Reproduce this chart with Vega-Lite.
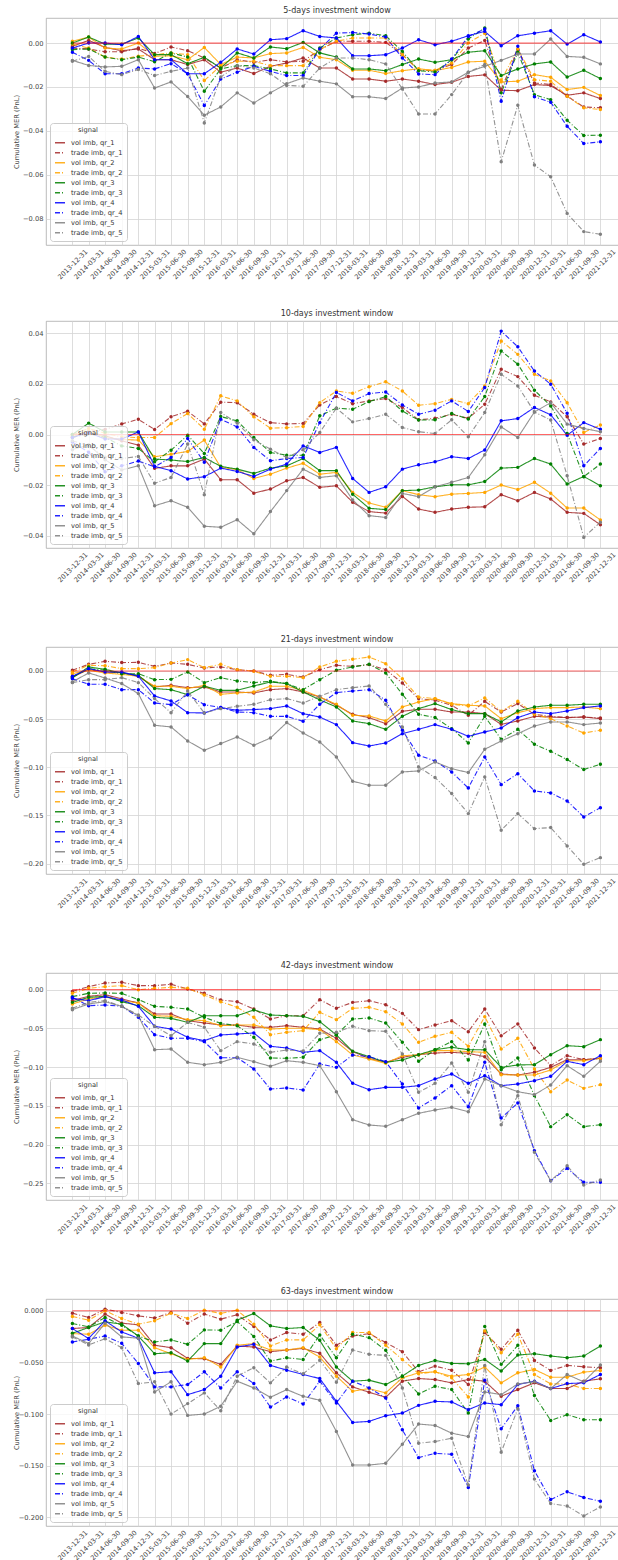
{
"$schema":"https://vega.github.io/schema/vega-lite/v6.json",
"padding":{"left":12,"top":6,"right":0,"bottom":0},
"datasets":{
"zero":[{"start":"2013-12-31","end":"2021-12-31"}],
"w5":[
{"date":"2013-12-31","sig":"v1","pnl":-0.0015},{"date":"2014-03-31","sig":"v1","pnl":0.0012},{"date":"2014-06-30","sig":"v1","pnl":-0.002},{"date":"2014-09-30","sig":"v1","pnl":-0.0035},{"date":"2014-12-31","sig":"v1","pnl":-0.0027},{"date":"2015-03-31","sig":"v1","pnl":-0.0076},{"date":"2015-06-30","sig":"v1","pnl":-0.0076},{"date":"2015-09-30","sig":"v1","pnl":-0.0098},{"date":"2015-12-31","sig":"v1","pnl":-0.0076},{"date":"2016-03-31","sig":"v1","pnl":-0.0133},{"date":"2016-06-30","sig":"v1","pnl":-0.0114},{"date":"2016-09-30","sig":"v1","pnl":-0.0139},{"date":"2016-12-31","sig":"v1","pnl":-0.0106},{"date":"2017-03-31","sig":"v1","pnl":-0.0091},{"date":"2017-06-30","sig":"v1","pnl":-0.0068},{"date":"2017-09-30","sig":"v1","pnl":-0.0114},{"date":"2017-12-31","sig":"v1","pnl":-0.0114},{"date":"2018-03-31","sig":"v1","pnl":-0.0164},{"date":"2018-06-30","sig":"v1","pnl":-0.0164},{"date":"2018-09-30","sig":"v1","pnl":-0.0174},{"date":"2018-12-31","sig":"v1","pnl":-0.0164},{"date":"2019-03-31","sig":"v1","pnl":-0.0174},{"date":"2019-06-30","sig":"v1","pnl":-0.0189},{"date":"2019-09-30","sig":"v1","pnl":-0.0179},{"date":"2019-12-31","sig":"v1","pnl":-0.0152},{"date":"2020-03-31","sig":"v1","pnl":-0.0145},{"date":"2020-06-30","sig":"v1","pnl":-0.0215},{"date":"2020-09-30","sig":"v1","pnl":-0.0217},{"date":"2020-12-31","sig":"v1","pnl":-0.0189},{"date":"2021-03-31","sig":"v1","pnl":-0.0194},{"date":"2021-06-30","sig":"v1","pnl":-0.0238},{"date":"2021-09-30","sig":"v1","pnl":-0.0227},{"date":"2021-12-31","sig":"v1","pnl":-0.0253},
{"date":"2013-12-31","sig":"t1","pnl":-0.0023},{"date":"2014-03-31","sig":"t1","pnl":-0.0027},{"date":"2014-06-30","sig":"t1","pnl":-0.004},{"date":"2014-09-30","sig":"t1","pnl":-0.004},{"date":"2014-12-31","sig":"t1","pnl":-0.0023},{"date":"2015-03-31","sig":"t1","pnl":-0.0048},{"date":"2015-06-30","sig":"t1","pnl":-0.0018},{"date":"2015-09-30","sig":"t1","pnl":-0.0035},{"date":"2015-12-31","sig":"t1","pnl":-0.0068},{"date":"2016-03-31","sig":"t1","pnl":-0.0114},{"date":"2016-06-30","sig":"t1","pnl":-0.0076},{"date":"2016-09-30","sig":"t1","pnl":-0.0088},{"date":"2016-12-31","sig":"t1","pnl":-0.0076},{"date":"2017-03-31","sig":"t1","pnl":-0.0086},{"date":"2017-06-30","sig":"t1","pnl":-0.0083},{"date":"2017-09-30","sig":"t1","pnl":-0.003},{"date":"2017-12-31","sig":"t1","pnl":0.0008},{"date":"2018-03-31","sig":"t1","pnl":0.0008},{"date":"2018-06-30","sig":"t1","pnl":0.0008},{"date":"2018-09-30","sig":"t1","pnl":0.0003},{"date":"2018-12-31","sig":"t1","pnl":-0.0053},{"date":"2019-03-31","sig":"t1","pnl":-0.0124},{"date":"2019-06-30","sig":"t1","pnl":-0.0126},{"date":"2019-09-30","sig":"t1","pnl":-0.0098},{"date":"2019-12-31","sig":"t1","pnl":-0.0023},{"date":"2020-03-31","sig":"t1","pnl":0.0012},{"date":"2020-06-30","sig":"t1","pnl":-0.0212},{"date":"2020-09-30","sig":"t1","pnl":-0.003},{"date":"2020-12-31","sig":"t1","pnl":-0.0182},{"date":"2021-03-31","sig":"t1","pnl":-0.0189},{"date":"2021-06-30","sig":"t1","pnl":-0.0242},{"date":"2021-09-30","sig":"t1","pnl":-0.0291},{"date":"2021-12-31","sig":"t1","pnl":-0.0295},
{"date":"2013-12-31","sig":"v2","pnl":0.0008},{"date":"2014-03-31","sig":"v2","pnl":0.0027},{"date":"2014-06-30","sig":"v2","pnl":-0.0023},{"date":"2014-09-30","sig":"v2","pnl":-0.0027},{"date":"2014-12-31","sig":"v2","pnl":0},{"date":"2015-03-31","sig":"v2","pnl":-0.006},{"date":"2015-06-30","sig":"v2","pnl":-0.0058},{"date":"2015-09-30","sig":"v2","pnl":-0.0076},{"date":"2015-12-31","sig":"v2","pnl":-0.002},{"date":"2016-03-31","sig":"v2","pnl":-0.0098},{"date":"2016-06-30","sig":"v2","pnl":-0.0064},{"date":"2016-09-30","sig":"v2","pnl":-0.0068},{"date":"2016-12-31","sig":"v2","pnl":-0.0048},{"date":"2017-03-31","sig":"v2","pnl":-0.0045},{"date":"2017-06-30","sig":"v2","pnl":-0.002},{"date":"2017-09-30","sig":"v2","pnl":-0.0065},{"date":"2017-12-31","sig":"v2","pnl":-0.0076},{"date":"2018-03-31","sig":"v2","pnl":-0.0124},{"date":"2018-06-30","sig":"v2","pnl":-0.0124},{"date":"2018-09-30","sig":"v2","pnl":-0.0139},{"date":"2018-12-31","sig":"v2","pnl":-0.0126},{"date":"2019-03-31","sig":"v2","pnl":-0.0117},{"date":"2019-06-30","sig":"v2","pnl":-0.0126},{"date":"2019-09-30","sig":"v2","pnl":-0.0111},{"date":"2019-12-31","sig":"v2","pnl":-0.0086},{"date":"2020-03-31","sig":"v2","pnl":-0.0083},{"date":"2020-06-30","sig":"v2","pnl":-0.0177},{"date":"2020-09-30","sig":"v2","pnl":-0.0174},{"date":"2020-12-31","sig":"v2","pnl":-0.0144},{"date":"2021-03-31","sig":"v2","pnl":-0.0156},{"date":"2021-06-30","sig":"v2","pnl":-0.0212},{"date":"2021-09-30","sig":"v2","pnl":-0.0202},{"date":"2021-12-31","sig":"v2","pnl":-0.0239},
{"date":"2013-12-31","sig":"t2","pnl":-0.0005},{"date":"2014-03-31","sig":"t2","pnl":-0.0023},{"date":"2014-06-30","sig":"t2","pnl":-0.0064},{"date":"2014-09-30","sig":"t2","pnl":-0.0073},{"date":"2014-12-31","sig":"t2","pnl":-0.006},{"date":"2015-03-31","sig":"t2","pnl":-0.0053},{"date":"2015-06-30","sig":"t2","pnl":-0.0045},{"date":"2015-09-30","sig":"t2","pnl":-0.0053},{"date":"2015-12-31","sig":"t2","pnl":-0.0171},{"date":"2016-03-31","sig":"t2","pnl":-0.0103},{"date":"2016-06-30","sig":"t2","pnl":-0.0083},{"date":"2016-09-30","sig":"t2","pnl":-0.0083},{"date":"2016-12-31","sig":"t2","pnl":-0.0103},{"date":"2017-03-31","sig":"t2","pnl":-0.0103},{"date":"2017-06-30","sig":"t2","pnl":-0.0103},{"date":"2017-09-30","sig":"t2","pnl":-0.003},{"date":"2017-12-31","sig":"t2","pnl":0.0008},{"date":"2018-03-31","sig":"t2","pnl":0.0023},{"date":"2018-06-30","sig":"t2","pnl":0.0023},{"date":"2018-09-30","sig":"t2","pnl":0.0023},{"date":"2018-12-31","sig":"t2","pnl":-0.0053},{"date":"2019-03-31","sig":"t2","pnl":-0.0121},{"date":"2019-06-30","sig":"t2","pnl":-0.0124},{"date":"2019-09-30","sig":"t2","pnl":-0.0091},{"date":"2019-12-31","sig":"t2","pnl":0},{"date":"2020-03-31","sig":"t2","pnl":0.0045},{"date":"2020-06-30","sig":"t2","pnl":-0.017},{"date":"2020-09-30","sig":"t2","pnl":-0.0027},{"date":"2020-12-31","sig":"t2","pnl":-0.0167},{"date":"2021-03-31","sig":"t2","pnl":-0.0174},{"date":"2021-06-30","sig":"t2","pnl":-0.0242},{"date":"2021-09-30","sig":"t2","pnl":-0.0295},{"date":"2021-12-31","sig":"t2","pnl":-0.0303},
{"date":"2013-12-31","sig":"v3","pnl":0},{"date":"2014-03-31","sig":"v3","pnl":0.0027},{"date":"2014-06-30","sig":"v3","pnl":-0.0005},{"date":"2014-09-30","sig":"v3","pnl":-0.0005},{"date":"2014-12-31","sig":"v3","pnl":0.0023},{"date":"2015-03-31","sig":"v3","pnl":-0.0053},{"date":"2015-06-30","sig":"v3","pnl":-0.0053},{"date":"2015-09-30","sig":"v3","pnl":-0.0094},{"date":"2015-12-31","sig":"v3","pnl":-0.0065},{"date":"2016-03-31","sig":"v3","pnl":-0.0114},{"date":"2016-06-30","sig":"v3","pnl":-0.0045},{"date":"2016-09-30","sig":"v3","pnl":-0.0068},{"date":"2016-12-31","sig":"v3","pnl":-0.0018},{"date":"2017-03-31","sig":"v3","pnl":-0.0026},{"date":"2017-06-30","sig":"v3","pnl":0.0003},{"date":"2017-09-30","sig":"v3","pnl":-0.0045},{"date":"2017-12-31","sig":"v3","pnl":-0.0064},{"date":"2018-03-31","sig":"v3","pnl":-0.0118},{"date":"2018-06-30","sig":"v3","pnl":-0.0118},{"date":"2018-09-30","sig":"v3","pnl":-0.0126},{"date":"2018-12-31","sig":"v3","pnl":-0.0098},{"date":"2019-03-31","sig":"v3","pnl":-0.0073},{"date":"2019-06-30","sig":"v3","pnl":-0.0088},{"date":"2019-09-30","sig":"v3","pnl":-0.0076},{"date":"2019-12-31","sig":"v3","pnl":-0.0042},{"date":"2020-03-31","sig":"v3","pnl":-0.0035},{"date":"2020-06-30","sig":"v3","pnl":-0.0148},{"date":"2020-09-30","sig":"v3","pnl":-0.0118},{"date":"2020-12-31","sig":"v3","pnl":-0.0095},{"date":"2021-03-31","sig":"v3","pnl":-0.0086},{"date":"2021-06-30","sig":"v3","pnl":-0.0155},{"date":"2021-09-30","sig":"v3","pnl":-0.0124},{"date":"2021-12-31","sig":"v3","pnl":-0.0162},
{"date":"2013-12-31","sig":"t3","pnl":-0.003},{"date":"2014-03-31","sig":"t3","pnl":-0.0027},{"date":"2014-06-30","sig":"t3","pnl":-0.0064},{"date":"2014-09-30","sig":"t3","pnl":-0.0076},{"date":"2014-12-31","sig":"t3","pnl":-0.0064},{"date":"2015-03-31","sig":"t3","pnl":-0.0085},{"date":"2015-06-30","sig":"t3","pnl":-0.0045},{"date":"2015-09-30","sig":"t3","pnl":-0.0064},{"date":"2015-12-31","sig":"t3","pnl":-0.022},{"date":"2016-03-31","sig":"t3","pnl":-0.0118},{"date":"2016-06-30","sig":"t3","pnl":-0.0103},{"date":"2016-09-30","sig":"t3","pnl":-0.0103},{"date":"2016-12-31","sig":"t3","pnl":-0.0118},{"date":"2017-03-31","sig":"t3","pnl":-0.0136},{"date":"2017-06-30","sig":"t3","pnl":-0.0136},{"date":"2017-09-30","sig":"t3","pnl":-0.0023},{"date":"2017-12-31","sig":"t3","pnl":0.0023},{"date":"2018-03-31","sig":"t3","pnl":0.0038},{"date":"2018-06-30","sig":"t3","pnl":0.0045},{"date":"2018-09-30","sig":"t3","pnl":0.0033},{"date":"2018-12-31","sig":"t3","pnl":-0.0038},{"date":"2019-03-31","sig":"t3","pnl":-0.0126},{"date":"2019-06-30","sig":"t3","pnl":-0.0132},{"date":"2019-09-30","sig":"t3","pnl":-0.0076},{"date":"2019-12-31","sig":"t3","pnl":0.0018},{"date":"2020-03-31","sig":"t3","pnl":0.0068},{"date":"2020-06-30","sig":"t3","pnl":-0.0227},{"date":"2020-09-30","sig":"t3","pnl":-0.0042},{"date":"2020-12-31","sig":"t3","pnl":-0.0235},{"date":"2021-03-31","sig":"t3","pnl":-0.0258},{"date":"2021-06-30","sig":"t3","pnl":-0.0352},{"date":"2021-09-30","sig":"t3","pnl":-0.0421},{"date":"2021-12-31","sig":"t3","pnl":-0.042},
{"date":"2013-12-31","sig":"v4","pnl":-0.0023},{"date":"2014-03-31","sig":"v4","pnl":0},{"date":"2014-06-30","sig":"v4","pnl":0},{"date":"2014-09-30","sig":"v4","pnl":-0.0008},{"date":"2014-12-31","sig":"v4","pnl":0.003},{"date":"2015-03-31","sig":"v4","pnl":-0.0076},{"date":"2015-06-30","sig":"v4","pnl":-0.0076},{"date":"2015-09-30","sig":"v4","pnl":-0.014},{"date":"2015-12-31","sig":"v4","pnl":-0.014},{"date":"2016-03-31","sig":"v4","pnl":-0.0088},{"date":"2016-06-30","sig":"v4","pnl":-0.0027},{"date":"2016-09-30","sig":"v4","pnl":-0.005},{"date":"2016-12-31","sig":"v4","pnl":0.0015},{"date":"2017-03-31","sig":"v4","pnl":0.002},{"date":"2017-06-30","sig":"v4","pnl":0.0056},{"date":"2017-09-30","sig":"v4","pnl":0.003},{"date":"2017-12-31","sig":"v4","pnl":0.0023},{"date":"2018-03-31","sig":"v4","pnl":-0.0058},{"date":"2018-06-30","sig":"v4","pnl":-0.0058},{"date":"2018-09-30","sig":"v4","pnl":-0.0053},{"date":"2018-12-31","sig":"v4","pnl":-0.0023},{"date":"2019-03-31","sig":"v4","pnl":0.0015},{"date":"2019-06-30","sig":"v4","pnl":-0.0008},{"date":"2019-09-30","sig":"v4","pnl":0.0008},{"date":"2019-12-31","sig":"v4","pnl":0.0033},{"date":"2020-03-31","sig":"v4","pnl":0.0053},{"date":"2020-06-30","sig":"v4","pnl":-0.0012},{"date":"2020-09-30","sig":"v4","pnl":0.0033},{"date":"2020-12-31","sig":"v4","pnl":0.0045},{"date":"2021-03-31","sig":"v4","pnl":0.0056},{"date":"2021-06-30","sig":"v4","pnl":-0.0005},{"date":"2021-09-30","sig":"v4","pnl":0.0038},{"date":"2021-12-31","sig":"v4","pnl":0.0005},
{"date":"2013-12-31","sig":"t4","pnl":-0.0042},{"date":"2014-03-31","sig":"t4","pnl":-0.0079},{"date":"2014-06-30","sig":"t4","pnl":-0.014},{"date":"2014-09-30","sig":"t4","pnl":-0.014},{"date":"2014-12-31","sig":"t4","pnl":-0.0114},{"date":"2015-03-31","sig":"t4","pnl":-0.0118},{"date":"2015-06-30","sig":"t4","pnl":-0.0094},{"date":"2015-09-30","sig":"t4","pnl":-0.014},{"date":"2015-12-31","sig":"t4","pnl":-0.0285},{"date":"2016-03-31","sig":"t4","pnl":-0.0164},{"date":"2016-06-30","sig":"t4","pnl":-0.0133},{"date":"2016-09-30","sig":"t4","pnl":-0.0106},{"date":"2016-12-31","sig":"t4","pnl":-0.0129},{"date":"2017-03-31","sig":"t4","pnl":-0.0148},{"date":"2017-06-30","sig":"t4","pnl":-0.0148},{"date":"2017-09-30","sig":"t4","pnl":-0.0027},{"date":"2017-12-31","sig":"t4","pnl":0.0045},{"date":"2018-03-31","sig":"t4","pnl":0.0048},{"date":"2018-06-30","sig":"t4","pnl":0.0041},{"date":"2018-09-30","sig":"t4","pnl":0.0027},{"date":"2018-12-31","sig":"t4","pnl":-0.0068},{"date":"2019-03-31","sig":"t4","pnl":-0.0141},{"date":"2019-06-30","sig":"t4","pnl":-0.0144},{"date":"2019-09-30","sig":"t4","pnl":-0.0073},{"date":"2019-12-31","sig":"t4","pnl":0.003},{"date":"2020-03-31","sig":"t4","pnl":0.0064},{"date":"2020-06-30","sig":"t4","pnl":-0.0265},{"date":"2020-09-30","sig":"t4","pnl":-0.0015},{"date":"2020-12-31","sig":"t4","pnl":-0.0245},{"date":"2021-03-31","sig":"t4","pnl":-0.027},{"date":"2021-06-30","sig":"t4","pnl":-0.0379},{"date":"2021-09-30","sig":"t4","pnl":-0.0458},{"date":"2021-12-31","sig":"t4","pnl":-0.045},
{"date":"2013-12-31","sig":"v5","pnl":-0.0079},{"date":"2014-03-31","sig":"v5","pnl":-0.0102},{"date":"2014-06-30","sig":"v5","pnl":-0.0109},{"date":"2014-09-30","sig":"v5","pnl":-0.0106},{"date":"2014-12-31","sig":"v5","pnl":-0.0076},{"date":"2015-03-31","sig":"v5","pnl":-0.0205},{"date":"2015-06-30","sig":"v5","pnl":-0.0177},{"date":"2015-09-30","sig":"v5","pnl":-0.0244},{"date":"2015-12-31","sig":"v5","pnl":-0.0329},{"date":"2016-03-31","sig":"v5","pnl":-0.0291},{"date":"2016-06-30","sig":"v5","pnl":-0.0227},{"date":"2016-09-30","sig":"v5","pnl":-0.0273},{"date":"2016-12-31","sig":"v5","pnl":-0.0227},{"date":"2017-03-31","sig":"v5","pnl":-0.0185},{"date":"2017-06-30","sig":"v5","pnl":-0.0159},{"date":"2017-09-30","sig":"v5","pnl":-0.0174},{"date":"2017-12-31","sig":"v5","pnl":-0.0186},{"date":"2018-03-31","sig":"v5","pnl":-0.0245},{"date":"2018-06-30","sig":"v5","pnl":-0.0245},{"date":"2018-09-30","sig":"v5","pnl":-0.0253},{"date":"2018-12-31","sig":"v5","pnl":-0.0205},{"date":"2019-03-31","sig":"v5","pnl":-0.02},{"date":"2019-06-30","sig":"v5","pnl":-0.0182},{"date":"2019-09-30","sig":"v5","pnl":-0.0177},{"date":"2019-12-31","sig":"v5","pnl":-0.0133},{"date":"2020-03-31","sig":"v5","pnl":-0.0106},{"date":"2020-06-30","sig":"v5","pnl":-0.0079},{"date":"2020-09-30","sig":"v5","pnl":-0.005},{"date":"2020-12-31","sig":"v5","pnl":-0.005},{"date":"2021-03-31","sig":"v5","pnl":0.0018},{"date":"2021-06-30","sig":"v5","pnl":-0.0061},{"date":"2021-09-30","sig":"v5","pnl":-0.0065},{"date":"2021-12-31","sig":"v5","pnl":-0.0095},
{"date":"2013-12-31","sig":"t5","pnl":-0.0083},{"date":"2014-03-31","sig":"t5","pnl":-0.0061},{"date":"2014-06-30","sig":"t5","pnl":-0.0129},{"date":"2014-09-30","sig":"t5","pnl":-0.0144},{"date":"2014-12-31","sig":"t5","pnl":-0.0121},{"date":"2015-03-31","sig":"t5","pnl":-0.0148},{"date":"2015-06-30","sig":"t5","pnl":-0.0129},{"date":"2015-09-30","sig":"t5","pnl":-0.0114},{"date":"2015-12-31","sig":"t5","pnl":-0.0364},{"date":"2016-03-31","sig":"t5","pnl":-0.0155},{"date":"2016-06-30","sig":"t5","pnl":-0.0103},{"date":"2016-09-30","sig":"t5","pnl":-0.0114},{"date":"2016-12-31","sig":"t5","pnl":-0.014},{"date":"2017-03-31","sig":"t5","pnl":-0.0193},{"date":"2017-06-30","sig":"t5","pnl":-0.0197},{"date":"2017-09-30","sig":"t5","pnl":-0.0114},{"date":"2017-12-31","sig":"t5","pnl":-0.0068},{"date":"2018-03-31","sig":"t5","pnl":-0.0068},{"date":"2018-06-30","sig":"t5","pnl":-0.0076},{"date":"2018-09-30","sig":"t5","pnl":-0.0095},{"date":"2018-12-31","sig":"t5","pnl":-0.0209},{"date":"2019-03-31","sig":"t5","pnl":-0.0323},{"date":"2019-06-30","sig":"t5","pnl":-0.0323},{"date":"2019-09-30","sig":"t5","pnl":-0.0235},{"date":"2019-12-31","sig":"t5","pnl":-0.0133},{"date":"2020-03-31","sig":"t5","pnl":-0.0098},{"date":"2020-06-30","sig":"t5","pnl":-0.0541},{"date":"2020-09-30","sig":"t5","pnl":-0.0283},{"date":"2020-12-31","sig":"t5","pnl":-0.0556},{"date":"2021-03-31","sig":"t5","pnl":-0.0609},{"date":"2021-06-30","sig":"t5","pnl":-0.0776},{"date":"2021-09-30","sig":"t5","pnl":-0.0859},{"date":"2021-12-31","sig":"t5","pnl":-0.0871}
],
"w10":[
{"date":"2013-12-31","sig":"v1","pnl":-0.001},{"date":"2014-03-31","sig":"v1","pnl":0.001},{"date":"2014-06-30","sig":"v1","pnl":-0.0005},{"date":"2014-09-30","sig":"v1","pnl":-0.0025},{"date":"2014-12-31","sig":"v1","pnl":-0.0042},{"date":"2015-03-31","sig":"v1","pnl":-0.0134},{"date":"2015-06-30","sig":"v1","pnl":-0.0124},{"date":"2015-09-30","sig":"v1","pnl":-0.0124},{"date":"2015-12-31","sig":"v1","pnl":-0.0097},{"date":"2016-03-31","sig":"v1","pnl":-0.0179},{"date":"2016-06-30","sig":"v1","pnl":-0.0179},{"date":"2016-09-30","sig":"v1","pnl":-0.0232},{"date":"2016-12-31","sig":"v1","pnl":-0.0216},{"date":"2017-03-31","sig":"v1","pnl":-0.0183},{"date":"2017-06-30","sig":"v1","pnl":-0.017},{"date":"2017-09-30","sig":"v1","pnl":-0.0209},{"date":"2017-12-31","sig":"v1","pnl":-0.0203},{"date":"2018-03-31","sig":"v1","pnl":-0.0268},{"date":"2018-06-30","sig":"v1","pnl":-0.0305},{"date":"2018-09-30","sig":"v1","pnl":-0.0311},{"date":"2018-12-31","sig":"v1","pnl":-0.0245},{"date":"2019-03-31","sig":"v1","pnl":-0.0295},{"date":"2019-06-30","sig":"v1","pnl":-0.0308},{"date":"2019-09-30","sig":"v1","pnl":-0.0295},{"date":"2019-12-31","sig":"v1","pnl":-0.0288},{"date":"2020-03-31","sig":"v1","pnl":-0.0286},{"date":"2020-06-30","sig":"v1","pnl":-0.0238},{"date":"2020-09-30","sig":"v1","pnl":-0.0262},{"date":"2020-12-31","sig":"v1","pnl":-0.0229},{"date":"2021-03-31","sig":"v1","pnl":-0.0255},{"date":"2021-06-30","sig":"v1","pnl":-0.0308},{"date":"2021-09-30","sig":"v1","pnl":-0.0312},{"date":"2021-12-31","sig":"v1","pnl":-0.0357},
{"date":"2013-12-31","sig":"t1","pnl":0},{"date":"2014-03-31","sig":"t1","pnl":0.0012},{"date":"2014-06-30","sig":"t1","pnl":0.002},{"date":"2014-09-30","sig":"t1","pnl":0.0042},{"date":"2014-12-31","sig":"t1","pnl":0.006},{"date":"2015-03-31","sig":"t1","pnl":0.002},{"date":"2015-06-30","sig":"t1","pnl":0.007},{"date":"2015-09-30","sig":"t1","pnl":0.0092},{"date":"2015-12-31","sig":"t1","pnl":0.0042},{"date":"2016-03-31","sig":"t1","pnl":0.0128},{"date":"2016-06-30","sig":"t1","pnl":0.0126},{"date":"2016-09-30","sig":"t1","pnl":0.008},{"date":"2016-12-31","sig":"t1","pnl":0.0047},{"date":"2017-03-31","sig":"t1","pnl":0.0042},{"date":"2017-06-30","sig":"t1","pnl":0.0044},{"date":"2017-09-30","sig":"t1","pnl":0.0117},{"date":"2017-12-31","sig":"t1","pnl":0.015},{"date":"2018-03-31","sig":"t1","pnl":0.0122},{"date":"2018-06-30","sig":"t1","pnl":0.0133},{"date":"2018-09-30","sig":"t1","pnl":0.0142},{"date":"2018-12-31","sig":"t1","pnl":0.0107},{"date":"2019-03-31","sig":"t1","pnl":0.0058},{"date":"2019-06-30","sig":"t1","pnl":0.0064},{"date":"2019-09-30","sig":"t1","pnl":0.008},{"date":"2019-12-31","sig":"t1","pnl":0.0064},{"date":"2020-03-31","sig":"t1","pnl":0.012},{"date":"2020-06-30","sig":"t1","pnl":0.0258},{"date":"2020-09-30","sig":"t1","pnl":0.0229},{"date":"2020-12-31","sig":"t1","pnl":0.0155},{"date":"2021-03-31","sig":"t1","pnl":0.0129},{"date":"2021-06-30","sig":"t1","pnl":0.007},{"date":"2021-09-30","sig":"t1","pnl":-0.0038},{"date":"2021-12-31","sig":"t1","pnl":-0.0016},
{"date":"2013-12-31","sig":"v2","pnl":-0.0005},{"date":"2014-03-31","sig":"v2","pnl":0.0014},{"date":"2014-06-30","sig":"v2","pnl":-0.0012},{"date":"2014-09-30","sig":"v2","pnl":-0.002},{"date":"2014-12-31","sig":"v2","pnl":-0.0022},{"date":"2015-03-31","sig":"v2","pnl":-0.0088},{"date":"2015-06-30","sig":"v2","pnl":-0.0078},{"date":"2015-09-30","sig":"v2","pnl":-0.0067},{"date":"2015-12-31","sig":"v2","pnl":-0.0022},{"date":"2016-03-31","sig":"v2","pnl":-0.013},{"date":"2016-06-30","sig":"v2","pnl":-0.0139},{"date":"2016-09-30","sig":"v2","pnl":-0.0174},{"date":"2016-12-31","sig":"v2","pnl":-0.0157},{"date":"2017-03-31","sig":"v2","pnl":-0.0133},{"date":"2017-06-30","sig":"v2","pnl":-0.0114},{"date":"2017-09-30","sig":"v2","pnl":-0.0157},{"date":"2017-12-31","sig":"v2","pnl":-0.015},{"date":"2018-03-31","sig":"v2","pnl":-0.0229},{"date":"2018-06-30","sig":"v2","pnl":-0.0271},{"date":"2018-09-30","sig":"v2","pnl":-0.0288},{"date":"2018-12-31","sig":"v2","pnl":-0.0222},{"date":"2019-03-31","sig":"v2","pnl":-0.0238},{"date":"2019-06-30","sig":"v2","pnl":-0.0246},{"date":"2019-09-30","sig":"v2","pnl":-0.0236},{"date":"2019-12-31","sig":"v2","pnl":-0.0233},{"date":"2020-03-31","sig":"v2","pnl":-0.0229},{"date":"2020-06-30","sig":"v2","pnl":-0.02},{"date":"2020-09-30","sig":"v2","pnl":-0.0218},{"date":"2020-12-31","sig":"v2","pnl":-0.0189},{"date":"2021-03-31","sig":"v2","pnl":-0.0232},{"date":"2021-06-30","sig":"v2","pnl":-0.0291},{"date":"2021-09-30","sig":"v2","pnl":-0.0291},{"date":"2021-12-31","sig":"v2","pnl":-0.0338},
{"date":"2013-12-31","sig":"t2","pnl":0},{"date":"2014-03-31","sig":"t2","pnl":0.0024},{"date":"2014-06-30","sig":"t2","pnl":0.0005},{"date":"2014-09-30","sig":"t2","pnl":-0.001},{"date":"2014-12-31","sig":"t2","pnl":-0.0012},{"date":"2015-03-31","sig":"t2","pnl":-0.0012},{"date":"2015-06-30","sig":"t2","pnl":0.0043},{"date":"2015-09-30","sig":"t2","pnl":0.0083},{"date":"2015-12-31","sig":"t2","pnl":0.0021},{"date":"2016-03-31","sig":"t2","pnl":0.0153},{"date":"2016-06-30","sig":"t2","pnl":0.0133},{"date":"2016-09-30","sig":"t2","pnl":0.007},{"date":"2016-12-31","sig":"t2","pnl":0.0025},{"date":"2017-03-31","sig":"t2","pnl":0.0027},{"date":"2017-06-30","sig":"t2","pnl":0.0032},{"date":"2017-09-30","sig":"t2","pnl":0.0126},{"date":"2017-12-31","sig":"t2","pnl":0.0172},{"date":"2018-03-31","sig":"t2","pnl":0.0163},{"date":"2018-06-30","sig":"t2","pnl":0.0189},{"date":"2018-09-30","sig":"t2","pnl":0.0209},{"date":"2018-12-31","sig":"t2","pnl":0.0172},{"date":"2019-03-31","sig":"t2","pnl":0.0116},{"date":"2019-06-30","sig":"t2","pnl":0.0122},{"date":"2019-09-30","sig":"t2","pnl":0.0139},{"date":"2019-12-31","sig":"t2","pnl":0.0122},{"date":"2020-03-31","sig":"t2","pnl":0.0192},{"date":"2020-06-30","sig":"t2","pnl":0.037},{"date":"2020-09-30","sig":"t2","pnl":0.0317},{"date":"2020-12-31","sig":"t2","pnl":0.0238},{"date":"2021-03-31","sig":"t2","pnl":0.0212},{"date":"2021-06-30","sig":"t2","pnl":0.0126},{"date":"2021-09-30","sig":"t2","pnl":0.0008},{"date":"2021-12-31","sig":"t2","pnl":0.0038},
{"date":"2013-12-31","sig":"v3","pnl":0},{"date":"2014-03-31","sig":"v3","pnl":0.0045},{"date":"2014-06-30","sig":"v3","pnl":0.001},{"date":"2014-09-30","sig":"v3","pnl":0.001},{"date":"2014-12-31","sig":"v3","pnl":0.001},{"date":"2015-03-31","sig":"v3","pnl":-0.0097},{"date":"2015-06-30","sig":"v3","pnl":-0.0101},{"date":"2015-09-30","sig":"v3","pnl":-0.0107},{"date":"2015-12-31","sig":"v3","pnl":-0.0091},{"date":"2016-03-31","sig":"v3","pnl":-0.0126},{"date":"2016-06-30","sig":"v3","pnl":-0.0137},{"date":"2016-09-30","sig":"v3","pnl":-0.0154},{"date":"2016-12-31","sig":"v3","pnl":-0.0133},{"date":"2017-03-31","sig":"v3","pnl":-0.0124},{"date":"2017-06-30","sig":"v3","pnl":-0.0095},{"date":"2017-09-30","sig":"v3","pnl":-0.0143},{"date":"2017-12-31","sig":"v3","pnl":-0.0143},{"date":"2018-03-31","sig":"v3","pnl":-0.0236},{"date":"2018-06-30","sig":"v3","pnl":-0.0292},{"date":"2018-09-30","sig":"v3","pnl":-0.0297},{"date":"2018-12-31","sig":"v3","pnl":-0.0222},{"date":"2019-03-31","sig":"v3","pnl":-0.022},{"date":"2019-06-30","sig":"v3","pnl":-0.0207},{"date":"2019-09-30","sig":"v3","pnl":-0.0199},{"date":"2019-12-31","sig":"v3","pnl":-0.0199},{"date":"2020-03-31","sig":"v3","pnl":-0.0186},{"date":"2020-06-30","sig":"v3","pnl":-0.0133},{"date":"2020-09-30","sig":"v3","pnl":-0.013},{"date":"2020-12-31","sig":"v3","pnl":-0.0095},{"date":"2021-03-31","sig":"v3","pnl":-0.0117},{"date":"2021-06-30","sig":"v3","pnl":-0.0196},{"date":"2021-09-30","sig":"v3","pnl":-0.0166},{"date":"2021-12-31","sig":"v3","pnl":-0.0203},
{"date":"2013-12-31","sig":"t3","pnl":-0.0012},{"date":"2014-03-31","sig":"t3","pnl":0.0004},{"date":"2014-06-30","sig":"t3","pnl":-0.0012},{"date":"2014-09-30","sig":"t3","pnl":-0.0045},{"date":"2014-12-31","sig":"t3","pnl":-0.0055},{"date":"2015-03-31","sig":"t3","pnl":-0.0108},{"date":"2015-06-30","sig":"t3","pnl":-0.0062},{"date":"2015-09-30","sig":"t3","pnl":-0.0003},{"date":"2015-12-31","sig":"t3","pnl":-0.0075},{"date":"2016-03-31","sig":"t3","pnl":0.0071},{"date":"2016-06-30","sig":"t3","pnl":0.0054},{"date":"2016-09-30","sig":"t3","pnl":-0.0012},{"date":"2016-12-31","sig":"t3","pnl":-0.0071},{"date":"2017-03-31","sig":"t3","pnl":-0.0082},{"date":"2017-06-30","sig":"t3","pnl":-0.0082},{"date":"2017-09-30","sig":"t3","pnl":0.0074},{"date":"2017-12-31","sig":"t3","pnl":0.0104},{"date":"2018-03-31","sig":"t3","pnl":0.01},{"date":"2018-06-30","sig":"t3","pnl":0.013},{"date":"2018-09-30","sig":"t3","pnl":0.015},{"date":"2018-12-31","sig":"t3","pnl":0.0093},{"date":"2019-03-31","sig":"t3","pnl":0.0057},{"date":"2019-06-30","sig":"t3","pnl":0.0058},{"date":"2019-09-30","sig":"t3","pnl":0.0083},{"date":"2019-12-31","sig":"t3","pnl":0.0061},{"date":"2020-03-31","sig":"t3","pnl":0.015},{"date":"2020-06-30","sig":"t3","pnl":0.033},{"date":"2020-09-30","sig":"t3","pnl":0.0278},{"date":"2020-12-31","sig":"t3","pnl":0.0175},{"date":"2021-03-31","sig":"t3","pnl":0.0113},{"date":"2021-06-30","sig":"t3","pnl":0.0004},{"date":"2021-09-30","sig":"t3","pnl":-0.0167},{"date":"2021-12-31","sig":"t3","pnl":-0.0117},
{"date":"2013-12-31","sig":"v4","pnl":-0.0012},{"date":"2014-03-31","sig":"v4","pnl":0.0008},{"date":"2014-06-30","sig":"v4","pnl":-0.0018},{"date":"2014-09-30","sig":"v4","pnl":-0.0018},{"date":"2014-12-31","sig":"v4","pnl":0.001},{"date":"2015-03-31","sig":"v4","pnl":-0.0126},{"date":"2015-06-30","sig":"v4","pnl":-0.0143},{"date":"2015-09-30","sig":"v4","pnl":-0.0176},{"date":"2015-12-31","sig":"v4","pnl":-0.0167},{"date":"2016-03-31","sig":"v4","pnl":-0.0133},{"date":"2016-06-30","sig":"v4","pnl":-0.0146},{"date":"2016-09-30","sig":"v4","pnl":-0.0166},{"date":"2016-12-31","sig":"v4","pnl":-0.0137},{"date":"2017-03-31","sig":"v4","pnl":-0.0117},{"date":"2017-06-30","sig":"v4","pnl":-0.0045},{"date":"2017-09-30","sig":"v4","pnl":-0.0071},{"date":"2017-12-31","sig":"v4","pnl":-0.0051},{"date":"2018-03-31","sig":"v4","pnl":-0.0174},{"date":"2018-06-30","sig":"v4","pnl":-0.0229},{"date":"2018-09-30","sig":"v4","pnl":-0.0207},{"date":"2018-12-31","sig":"v4","pnl":-0.0137},{"date":"2019-03-31","sig":"v4","pnl":-0.012},{"date":"2019-06-30","sig":"v4","pnl":-0.0108},{"date":"2019-09-30","sig":"v4","pnl":-0.0088},{"date":"2019-12-31","sig":"v4","pnl":-0.0095},{"date":"2020-03-31","sig":"v4","pnl":-0.0061},{"date":"2020-06-30","sig":"v4","pnl":0.0054},{"date":"2020-09-30","sig":"v4","pnl":0.0063},{"date":"2020-12-31","sig":"v4","pnl":0.0107},{"date":"2021-03-31","sig":"v4","pnl":0.0078},{"date":"2021-06-30","sig":"v4","pnl":-0.0003},{"date":"2021-09-30","sig":"v4","pnl":0.0047},{"date":"2021-12-31","sig":"v4","pnl":0.0021},
{"date":"2013-12-31","sig":"t4","pnl":-0.003},{"date":"2014-03-31","sig":"t4","pnl":-0.007},{"date":"2014-06-30","sig":"t4","pnl":-0.0147},{"date":"2014-09-30","sig":"t4","pnl":-0.0124},{"date":"2014-12-31","sig":"t4","pnl":-0.0105},{"date":"2015-03-31","sig":"t4","pnl":-0.0128},{"date":"2015-06-30","sig":"t4","pnl":-0.0091},{"date":"2015-09-30","sig":"t4","pnl":-0.0016},{"date":"2015-12-31","sig":"t4","pnl":-0.011},{"date":"2016-03-31","sig":"t4","pnl":0.006},{"date":"2016-06-30","sig":"t4","pnl":0.003},{"date":"2016-09-30","sig":"t4","pnl":-0.0051},{"date":"2016-12-31","sig":"t4","pnl":-0.0104},{"date":"2017-03-31","sig":"t4","pnl":-0.0095},{"date":"2017-06-30","sig":"t4","pnl":-0.0091},{"date":"2017-09-30","sig":"t4","pnl":0.0047},{"date":"2017-12-31","sig":"t4","pnl":0.0166},{"date":"2018-03-31","sig":"t4","pnl":0.0133},{"date":"2018-06-30","sig":"t4","pnl":0.0162},{"date":"2018-09-30","sig":"t4","pnl":0.0168},{"date":"2018-12-31","sig":"t4","pnl":0.0117},{"date":"2019-03-31","sig":"t4","pnl":0.008},{"date":"2019-06-30","sig":"t4","pnl":0.0096},{"date":"2019-09-30","sig":"t4","pnl":0.0133},{"date":"2019-12-31","sig":"t4","pnl":0.0091},{"date":"2020-03-31","sig":"t4","pnl":0.0186},{"date":"2020-06-30","sig":"t4","pnl":0.0409},{"date":"2020-09-30","sig":"t4","pnl":0.0347},{"date":"2020-12-31","sig":"t4","pnl":0.0251},{"date":"2021-03-31","sig":"t4","pnl":0.0199},{"date":"2021-06-30","sig":"t4","pnl":0.0084},{"date":"2021-09-30","sig":"t4","pnl":-0.0124},{"date":"2021-12-31","sig":"t4","pnl":-0.0055},
{"date":"2013-12-31","sig":"v5","pnl":-0.006},{"date":"2014-03-31","sig":"v5","pnl":-0.004},{"date":"2014-06-30","sig":"v5","pnl":-0.01},{"date":"2014-09-30","sig":"v5","pnl":-0.014},{"date":"2014-12-31","sig":"v5","pnl":-0.0124},{"date":"2015-03-31","sig":"v5","pnl":-0.0282},{"date":"2015-06-30","sig":"v5","pnl":-0.0262},{"date":"2015-09-30","sig":"v5","pnl":-0.0288},{"date":"2015-12-31","sig":"v5","pnl":-0.0363},{"date":"2016-03-31","sig":"v5","pnl":-0.0367},{"date":"2016-06-30","sig":"v5","pnl":-0.0337},{"date":"2016-09-30","sig":"v5","pnl":-0.0393},{"date":"2016-12-31","sig":"v5","pnl":-0.0305},{"date":"2017-03-31","sig":"v5","pnl":-0.0222},{"date":"2017-06-30","sig":"v5","pnl":-0.0137},{"date":"2017-09-30","sig":"v5","pnl":-0.017},{"date":"2017-12-31","sig":"v5","pnl":-0.0163},{"date":"2018-03-31","sig":"v5","pnl":-0.0259},{"date":"2018-06-30","sig":"v5","pnl":-0.0321},{"date":"2018-09-30","sig":"v5","pnl":-0.0328},{"date":"2018-12-31","sig":"v5","pnl":-0.0233},{"date":"2019-03-31","sig":"v5","pnl":-0.0246},{"date":"2019-06-30","sig":"v5","pnl":-0.0207},{"date":"2019-09-30","sig":"v5","pnl":-0.0189},{"date":"2019-12-31","sig":"v5","pnl":-0.017},{"date":"2020-03-31","sig":"v5","pnl":-0.008},{"date":"2020-06-30","sig":"v5","pnl":0.003},{"date":"2020-09-30","sig":"v5","pnl":-0.0012},{"date":"2020-12-31","sig":"v5","pnl":0.0089},{"date":"2021-03-31","sig":"v5","pnl":0.0126},{"date":"2021-06-30","sig":"v5","pnl":0.0041},{"date":"2021-09-30","sig":"v5","pnl":0.0024},{"date":"2021-12-31","sig":"v5","pnl":0.0011},
{"date":"2013-12-31","sig":"t5","pnl":-0.0025},{"date":"2014-03-31","sig":"t5","pnl":-0.0045},{"date":"2014-06-30","sig":"t5","pnl":-0.009},{"date":"2014-09-30","sig":"t5","pnl":-0.0095},{"date":"2014-12-31","sig":"t5","pnl":-0.0087},{"date":"2015-03-31","sig":"t5","pnl":-0.0193},{"date":"2015-06-30","sig":"t5","pnl":-0.017},{"date":"2015-09-30","sig":"t5","pnl":-0.0038},{"date":"2015-12-31","sig":"t5","pnl":-0.0238},{"date":"2016-03-31","sig":"t5","pnl":0.0087},{"date":"2016-06-30","sig":"t5","pnl":0.0045},{"date":"2016-09-30","sig":"t5","pnl":-0.0021},{"date":"2016-12-31","sig":"t5","pnl":-0.0058},{"date":"2017-03-31","sig":"t5","pnl":-0.0091},{"date":"2017-06-30","sig":"t5","pnl":-0.006},{"date":"2017-09-30","sig":"t5","pnl":0.0008},{"date":"2017-12-31","sig":"t5","pnl":0.0104},{"date":"2018-03-31","sig":"t5","pnl":0.005},{"date":"2018-06-30","sig":"t5","pnl":0.0063},{"date":"2018-09-30","sig":"t5","pnl":0.008},{"date":"2018-12-31","sig":"t5","pnl":0.0028},{"date":"2019-03-31","sig":"t5","pnl":0.0011},{"date":"2019-06-30","sig":"t5","pnl":0.0004},{"date":"2019-09-30","sig":"t5","pnl":0.0058},{"date":"2019-12-31","sig":"t5","pnl":-0.0009},{"date":"2020-03-31","sig":"t5","pnl":0.0087},{"date":"2020-06-30","sig":"t5","pnl":0.0238},{"date":"2020-09-30","sig":"t5","pnl":0.0192},{"date":"2020-12-31","sig":"t5","pnl":0.0089},{"date":"2021-03-31","sig":"t5","pnl":0.0057},{"date":"2021-06-30","sig":"t5","pnl":-0.0163},{"date":"2021-09-30","sig":"t5","pnl":-0.0407},{"date":"2021-12-31","sig":"t5","pnl":-0.0347}
],
"w21":[
{"date":"2013-12-31","sig":"v1","pnl":-0.0062},{"date":"2014-03-31","sig":"v1","pnl":0.0014},{"date":"2014-06-30","sig":"v1","pnl":-0.001},{"date":"2014-09-30","sig":"v1","pnl":-0.0017},{"date":"2014-12-31","sig":"v1","pnl":-0.0055},{"date":"2015-03-31","sig":"v1","pnl":-0.0166},{"date":"2015-06-30","sig":"v1","pnl":-0.0149},{"date":"2015-09-30","sig":"v1","pnl":-0.0173},{"date":"2015-12-31","sig":"v1","pnl":-0.0166},{"date":"2016-03-31","sig":"v1","pnl":-0.0218},{"date":"2016-06-30","sig":"v1","pnl":-0.0218},{"date":"2016-09-30","sig":"v1","pnl":-0.0228},{"date":"2016-12-31","sig":"v1","pnl":-0.0194},{"date":"2017-03-31","sig":"v1","pnl":-0.0183},{"date":"2017-06-30","sig":"v1","pnl":-0.0218},{"date":"2017-09-30","sig":"v1","pnl":-0.027},{"date":"2017-12-31","sig":"v1","pnl":-0.0356},{"date":"2018-03-31","sig":"v1","pnl":-0.045},{"date":"2018-06-30","sig":"v1","pnl":-0.0484},{"date":"2018-09-30","sig":"v1","pnl":-0.0547},{"date":"2018-12-31","sig":"v1","pnl":-0.0419},{"date":"2019-03-31","sig":"v1","pnl":-0.0398},{"date":"2019-06-30","sig":"v1","pnl":-0.0398},{"date":"2019-09-30","sig":"v1","pnl":-0.0426},{"date":"2019-12-31","sig":"v1","pnl":-0.0426},{"date":"2020-03-31","sig":"v1","pnl":-0.0443},{"date":"2020-06-30","sig":"v1","pnl":-0.0554},{"date":"2020-09-30","sig":"v1","pnl":-0.0519},{"date":"2020-12-31","sig":"v1","pnl":-0.0471},{"date":"2021-03-31","sig":"v1","pnl":-0.0478},{"date":"2021-06-30","sig":"v1","pnl":-0.0484},{"date":"2021-09-30","sig":"v1","pnl":-0.0478},{"date":"2021-12-31","sig":"v1","pnl":-0.0495},
{"date":"2013-12-31","sig":"t1","pnl":0.0007},{"date":"2014-03-31","sig":"t1","pnl":0.0069},{"date":"2014-06-30","sig":"t1","pnl":0.01},{"date":"2014-09-30","sig":"t1","pnl":0.0087},{"date":"2014-12-31","sig":"t1","pnl":0.009},{"date":"2015-03-31","sig":"t1","pnl":0.0048},{"date":"2015-06-30","sig":"t1","pnl":0.0083},{"date":"2015-09-30","sig":"t1","pnl":0.0069},{"date":"2015-12-31","sig":"t1","pnl":0.0031},{"date":"2016-03-31","sig":"t1","pnl":0.0042},{"date":"2016-06-30","sig":"t1","pnl":0.0014},{"date":"2016-09-30","sig":"t1","pnl":0},{"date":"2016-12-31","sig":"t1","pnl":-0.0045},{"date":"2017-03-31","sig":"t1","pnl":-0.0035},{"date":"2017-06-30","sig":"t1","pnl":-0.0062},{"date":"2017-09-30","sig":"t1","pnl":0.0014},{"date":"2017-12-31","sig":"t1","pnl":0.0059},{"date":"2018-03-31","sig":"t1","pnl":0.0048},{"date":"2018-06-30","sig":"t1","pnl":0.0066},{"date":"2018-09-30","sig":"t1","pnl":0.0014},{"date":"2018-12-31","sig":"t1","pnl":-0.0125},{"date":"2019-03-31","sig":"t1","pnl":-0.0287},{"date":"2019-06-30","sig":"t1","pnl":-0.0304},{"date":"2019-09-30","sig":"t1","pnl":-0.0356},{"date":"2019-12-31","sig":"t1","pnl":-0.046},{"date":"2020-03-31","sig":"t1","pnl":-0.0315},{"date":"2020-06-30","sig":"t1","pnl":-0.0426},{"date":"2020-09-30","sig":"t1","pnl":-0.0339},{"date":"2020-12-31","sig":"t1","pnl":-0.045},{"date":"2021-03-31","sig":"t1","pnl":-0.0471},{"date":"2021-06-30","sig":"t1","pnl":-0.0484},{"date":"2021-09-30","sig":"t1","pnl":-0.0478},{"date":"2021-12-31","sig":"t1","pnl":-0.0488},
{"date":"2013-12-31","sig":"v2","pnl":-0.0028},{"date":"2014-03-31","sig":"v2","pnl":0.0007},{"date":"2014-06-30","sig":"v2","pnl":-0.0021},{"date":"2014-09-30","sig":"v2","pnl":-0.0035},{"date":"2014-12-31","sig":"v2","pnl":-0.0055},{"date":"2015-03-31","sig":"v2","pnl":-0.0159},{"date":"2015-06-30","sig":"v2","pnl":-0.0159},{"date":"2015-09-30","sig":"v2","pnl":-0.0183},{"date":"2015-12-31","sig":"v2","pnl":-0.0149},{"date":"2016-03-31","sig":"v2","pnl":-0.0242},{"date":"2016-06-30","sig":"v2","pnl":-0.0228},{"date":"2016-09-30","sig":"v2","pnl":-0.0218},{"date":"2016-12-31","sig":"v2","pnl":-0.0159},{"date":"2017-03-31","sig":"v2","pnl":-0.0159},{"date":"2017-06-30","sig":"v2","pnl":-0.0201},{"date":"2017-09-30","sig":"v2","pnl":-0.027},{"date":"2017-12-31","sig":"v2","pnl":-0.0346},{"date":"2018-03-31","sig":"v2","pnl":-0.046},{"date":"2018-06-30","sig":"v2","pnl":-0.0467},{"date":"2018-09-30","sig":"v2","pnl":-0.0519},{"date":"2018-12-31","sig":"v2","pnl":-0.0374},{"date":"2019-03-31","sig":"v2","pnl":-0.0322},{"date":"2019-06-30","sig":"v2","pnl":-0.0287},{"date":"2019-09-30","sig":"v2","pnl":-0.0339},{"date":"2019-12-31","sig":"v2","pnl":-0.0356},{"date":"2020-03-31","sig":"v2","pnl":-0.0363},{"date":"2020-06-30","sig":"v2","pnl":-0.0495},{"date":"2020-09-30","sig":"v2","pnl":-0.0433},{"date":"2020-12-31","sig":"v2","pnl":-0.0391},{"date":"2021-03-31","sig":"v2","pnl":-0.038},{"date":"2021-06-30","sig":"v2","pnl":-0.038},{"date":"2021-09-30","sig":"v2","pnl":-0.0374},{"date":"2021-12-31","sig":"v2","pnl":-0.0391},
{"date":"2013-12-31","sig":"t2","pnl":-0.001},{"date":"2014-03-31","sig":"t2","pnl":0.0059},{"date":"2014-06-30","sig":"t2","pnl":0.0055},{"date":"2014-09-30","sig":"t2","pnl":0.0024},{"date":"2014-12-31","sig":"t2","pnl":0.0024},{"date":"2015-03-31","sig":"t2","pnl":0.0035},{"date":"2015-06-30","sig":"t2","pnl":0.0083},{"date":"2015-09-30","sig":"t2","pnl":0.0118},{"date":"2015-12-31","sig":"t2","pnl":0.0035},{"date":"2016-03-31","sig":"t2","pnl":0.0069},{"date":"2016-06-30","sig":"t2","pnl":0.0014},{"date":"2016-09-30","sig":"t2","pnl":-0.0003},{"date":"2016-12-31","sig":"t2","pnl":-0.0055},{"date":"2017-03-31","sig":"t2","pnl":-0.0055},{"date":"2017-06-30","sig":"t2","pnl":-0.0069},{"date":"2017-09-30","sig":"t2","pnl":0.0042},{"date":"2017-12-31","sig":"t2","pnl":0.01},{"date":"2018-03-31","sig":"t2","pnl":0.0121},{"date":"2018-06-30","sig":"t2","pnl":0.0145},{"date":"2018-09-30","sig":"t2","pnl":0.0076},{"date":"2018-12-31","sig":"t2","pnl":-0.008},{"date":"2019-03-31","sig":"t2","pnl":-0.027},{"date":"2019-06-30","sig":"t2","pnl":-0.0287},{"date":"2019-09-30","sig":"t2","pnl":-0.0346},{"date":"2019-12-31","sig":"t2","pnl":-0.0363},{"date":"2020-03-31","sig":"t2","pnl":-0.028},{"date":"2020-06-30","sig":"t2","pnl":-0.0419},{"date":"2020-09-30","sig":"t2","pnl":-0.0315},{"date":"2020-12-31","sig":"t2","pnl":-0.045},{"date":"2021-03-31","sig":"t2","pnl":-0.0495},{"date":"2021-06-30","sig":"t2","pnl":-0.0571},{"date":"2021-09-30","sig":"t2","pnl":-0.0644},{"date":"2021-12-31","sig":"t2","pnl":-0.0616},
{"date":"2013-12-31","sig":"v3","pnl":-0.0073},{"date":"2014-03-31","sig":"v3","pnl":0.0042},{"date":"2014-06-30","sig":"v3","pnl":0.0017},{"date":"2014-09-30","sig":"v3","pnl":-0.0021},{"date":"2014-12-31","sig":"v3","pnl":-0.0045},{"date":"2015-03-31","sig":"v3","pnl":-0.0183},{"date":"2015-06-30","sig":"v3","pnl":-0.0194},{"date":"2015-09-30","sig":"v3","pnl":-0.0246},{"date":"2015-12-31","sig":"v3","pnl":-0.0159},{"date":"2016-03-31","sig":"v3","pnl":-0.0201},{"date":"2016-06-30","sig":"v3","pnl":-0.0201},{"date":"2016-09-30","sig":"v3","pnl":-0.0156},{"date":"2016-12-31","sig":"v3","pnl":-0.0114},{"date":"2017-03-31","sig":"v3","pnl":-0.0131},{"date":"2017-06-30","sig":"v3","pnl":-0.0218},{"date":"2017-09-30","sig":"v3","pnl":-0.03},{"date":"2017-12-31","sig":"v3","pnl":-0.0374},{"date":"2018-03-31","sig":"v3","pnl":-0.0519},{"date":"2018-06-30","sig":"v3","pnl":-0.0547},{"date":"2018-09-30","sig":"v3","pnl":-0.0606},{"date":"2018-12-31","sig":"v3","pnl":-0.0471},{"date":"2019-03-31","sig":"v3","pnl":-0.0391},{"date":"2019-06-30","sig":"v3","pnl":-0.0339},{"date":"2019-09-30","sig":"v3","pnl":-0.0401},{"date":"2019-12-31","sig":"v3","pnl":-0.0443},{"date":"2020-03-31","sig":"v3","pnl":-0.0443},{"date":"2020-06-30","sig":"v3","pnl":-0.0529},{"date":"2020-09-30","sig":"v3","pnl":-0.0415},{"date":"2020-12-31","sig":"v3","pnl":-0.0374},{"date":"2021-03-31","sig":"v3","pnl":-0.0356},{"date":"2021-06-30","sig":"v3","pnl":-0.0356},{"date":"2021-09-30","sig":"v3","pnl":-0.0346},{"date":"2021-12-31","sig":"v3","pnl":-0.0346},
{"date":"2013-12-31","sig":"t3","pnl":-0.0062},{"date":"2014-03-31","sig":"t3","pnl":0.0024},{"date":"2014-06-30","sig":"t3","pnl":0.0007},{"date":"2014-09-30","sig":"t3","pnl":-0.0028},{"date":"2014-12-31","sig":"t3","pnl":-0.0028},{"date":"2015-03-31","sig":"t3","pnl":-0.009},{"date":"2015-06-30","sig":"t3","pnl":-0.0087},{"date":"2015-09-30","sig":"t3","pnl":-0.001},{"date":"2015-12-31","sig":"t3","pnl":-0.0121},{"date":"2016-03-31","sig":"t3","pnl":-0.0069},{"date":"2016-06-30","sig":"t3","pnl":-0.0104},{"date":"2016-09-30","sig":"t3","pnl":-0.0121},{"date":"2016-12-31","sig":"t3","pnl":-0.0107},{"date":"2017-03-31","sig":"t3","pnl":-0.0131},{"date":"2017-06-30","sig":"t3","pnl":-0.0194},{"date":"2017-09-30","sig":"t3","pnl":-0.009},{"date":"2017-12-31","sig":"t3","pnl":0.0007},{"date":"2018-03-31","sig":"t3","pnl":0.0042},{"date":"2018-06-30","sig":"t3","pnl":0.0069},{"date":"2018-09-30","sig":"t3","pnl":-0.0021},{"date":"2018-12-31","sig":"t3","pnl":-0.0242},{"date":"2019-03-31","sig":"t3","pnl":-0.045},{"date":"2019-06-30","sig":"t3","pnl":-0.0484},{"date":"2019-09-30","sig":"t3","pnl":-0.0599},{"date":"2019-12-31","sig":"t3","pnl":-0.0747},{"date":"2020-03-31","sig":"t3","pnl":-0.0471},{"date":"2020-06-30","sig":"t3","pnl":-0.0709},{"date":"2020-09-30","sig":"t3","pnl":-0.0606},{"date":"2020-12-31","sig":"t3","pnl":-0.0761},{"date":"2021-03-31","sig":"t3","pnl":-0.0834},{"date":"2021-06-30","sig":"t3","pnl":-0.092},{"date":"2021-09-30","sig":"t3","pnl":-0.1024},{"date":"2021-12-31","sig":"t3","pnl":-0.0969},
{"date":"2013-12-31","sig":"v4","pnl":-0.0055},{"date":"2014-03-31","sig":"v4","pnl":0.0024},{"date":"2014-06-30","sig":"v4","pnl":-0.001},{"date":"2014-09-30","sig":"v4","pnl":-0.001},{"date":"2014-12-31","sig":"v4","pnl":-0.0055},{"date":"2015-03-31","sig":"v4","pnl":-0.026},{"date":"2015-06-30","sig":"v4","pnl":-0.0311},{"date":"2015-09-30","sig":"v4","pnl":-0.0433},{"date":"2015-12-31","sig":"v4","pnl":-0.0436},{"date":"2016-03-31","sig":"v4","pnl":-0.038},{"date":"2016-06-30","sig":"v4","pnl":-0.0408},{"date":"2016-09-30","sig":"v4","pnl":-0.0401},{"date":"2016-12-31","sig":"v4","pnl":-0.0391},{"date":"2017-03-31","sig":"v4","pnl":-0.0363},{"date":"2017-06-30","sig":"v4","pnl":-0.0443},{"date":"2017-09-30","sig":"v4","pnl":-0.0478},{"date":"2017-12-31","sig":"v4","pnl":-0.0557},{"date":"2018-03-31","sig":"v4","pnl":-0.0744},{"date":"2018-06-30","sig":"v4","pnl":-0.0779},{"date":"2018-09-30","sig":"v4","pnl":-0.0747},{"date":"2018-12-31","sig":"v4","pnl":-0.0651},{"date":"2019-03-31","sig":"v4","pnl":-0.0606},{"date":"2019-06-30","sig":"v4","pnl":-0.0557},{"date":"2019-09-30","sig":"v4","pnl":-0.0606},{"date":"2019-12-31","sig":"v4","pnl":-0.0678},{"date":"2020-03-31","sig":"v4","pnl":-0.0633},{"date":"2020-06-30","sig":"v4","pnl":-0.0592},{"date":"2020-09-30","sig":"v4","pnl":-0.0484},{"date":"2020-12-31","sig":"v4","pnl":-0.0426},{"date":"2021-03-31","sig":"v4","pnl":-0.0443},{"date":"2021-06-30","sig":"v4","pnl":-0.0415},{"date":"2021-09-30","sig":"v4","pnl":-0.038},{"date":"2021-12-31","sig":"v4","pnl":-0.0363},
{"date":"2013-12-31","sig":"t4","pnl":-0.008},{"date":"2014-03-31","sig":"t4","pnl":-0.0138},{"date":"2014-06-30","sig":"t4","pnl":-0.0138},{"date":"2014-09-30","sig":"t4","pnl":-0.0194},{"date":"2014-12-31","sig":"t4","pnl":-0.0194},{"date":"2015-03-31","sig":"t4","pnl":-0.0332},{"date":"2015-06-30","sig":"t4","pnl":-0.035},{"date":"2015-09-30","sig":"t4","pnl":-0.0246},{"date":"2015-12-31","sig":"t4","pnl":-0.035},{"date":"2016-03-31","sig":"t4","pnl":-0.038},{"date":"2016-06-30","sig":"t4","pnl":-0.0426},{"date":"2016-09-30","sig":"t4","pnl":-0.0433},{"date":"2016-12-31","sig":"t4","pnl":-0.0471},{"date":"2017-03-31","sig":"t4","pnl":-0.0471},{"date":"2017-06-30","sig":"t4","pnl":-0.0522},{"date":"2017-09-30","sig":"t4","pnl":-0.0346},{"date":"2017-12-31","sig":"t4","pnl":-0.0225},{"date":"2018-03-31","sig":"t4","pnl":-0.0208},{"date":"2018-06-30","sig":"t4","pnl":-0.0194},{"date":"2018-09-30","sig":"t4","pnl":-0.0304},{"date":"2018-12-31","sig":"t4","pnl":-0.0616},{"date":"2019-03-31","sig":"t4","pnl":-0.0875},{"date":"2019-06-30","sig":"t4","pnl":-0.0934},{"date":"2019-09-30","sig":"t4","pnl":-0.1048},{"date":"2019-12-31","sig":"t4","pnl":-0.1215},{"date":"2020-03-31","sig":"t4","pnl":-0.0893},{"date":"2020-06-30","sig":"t4","pnl":-0.118},{"date":"2020-09-30","sig":"t4","pnl":-0.1066},{"date":"2020-12-31","sig":"t4","pnl":-0.1246},{"date":"2021-03-31","sig":"t4","pnl":-0.1266},{"date":"2021-06-30","sig":"t4","pnl":-0.135},{"date":"2021-09-30","sig":"t4","pnl":-0.1516},{"date":"2021-12-31","sig":"t4","pnl":-0.1419},
{"date":"2013-12-31","sig":"v5","pnl":-0.0114},{"date":"2014-03-31","sig":"v5","pnl":-0.002},{"date":"2014-06-30","sig":"v5","pnl":-0.0073},{"date":"2014-09-30","sig":"v5","pnl":-0.0131},{"date":"2014-12-31","sig":"v5","pnl":-0.0235},{"date":"2015-03-31","sig":"v5","pnl":-0.0564},{"date":"2015-06-30","sig":"v5","pnl":-0.0581},{"date":"2015-09-30","sig":"v5","pnl":-0.0727},{"date":"2015-12-31","sig":"v5","pnl":-0.0824},{"date":"2016-03-31","sig":"v5","pnl":-0.0754},{"date":"2016-06-30","sig":"v5","pnl":-0.0685},{"date":"2016-09-30","sig":"v5","pnl":-0.0772},{"date":"2016-12-31","sig":"v5","pnl":-0.0696},{"date":"2017-03-31","sig":"v5","pnl":-0.0536},{"date":"2017-06-30","sig":"v5","pnl":-0.0644},{"date":"2017-09-30","sig":"v5","pnl":-0.0737},{"date":"2017-12-31","sig":"v5","pnl":-0.0893},{"date":"2018-03-31","sig":"v5","pnl":-0.1145},{"date":"2018-06-30","sig":"v5","pnl":-0.1187},{"date":"2018-09-30","sig":"v5","pnl":-0.1187},{"date":"2018-12-31","sig":"v5","pnl":-0.1048},{"date":"2019-03-31","sig":"v5","pnl":-0.1038},{"date":"2019-06-30","sig":"v5","pnl":-0.0945},{"date":"2019-09-30","sig":"v5","pnl":-0.1014},{"date":"2019-12-31","sig":"v5","pnl":-0.1055},{"date":"2020-03-31","sig":"v5","pnl":-0.0813},{"date":"2020-06-30","sig":"v5","pnl":-0.0727},{"date":"2020-09-30","sig":"v5","pnl":-0.0651},{"date":"2020-12-31","sig":"v5","pnl":-0.0571},{"date":"2021-03-31","sig":"v5","pnl":-0.0529},{"date":"2021-06-30","sig":"v5","pnl":-0.0529},{"date":"2021-09-30","sig":"v5","pnl":-0.0557},{"date":"2021-12-31","sig":"v5","pnl":-0.054},
{"date":"2013-12-31","sig":"t5","pnl":-0.0121},{"date":"2014-03-31","sig":"t5","pnl":-0.009},{"date":"2014-06-30","sig":"t5","pnl":-0.009},{"date":"2014-09-30","sig":"t5","pnl":-0.0069},{"date":"2014-12-31","sig":"t5","pnl":-0.0121},{"date":"2015-03-31","sig":"t5","pnl":-0.0287},{"date":"2015-06-30","sig":"t5","pnl":-0.0433},{"date":"2015-09-30","sig":"t5","pnl":-0.0208},{"date":"2015-12-31","sig":"t5","pnl":-0.0436},{"date":"2016-03-31","sig":"t5","pnl":-0.0391},{"date":"2016-06-30","sig":"t5","pnl":-0.0367},{"date":"2016-09-30","sig":"t5","pnl":-0.0346},{"date":"2016-12-31","sig":"t5","pnl":-0.0298},{"date":"2017-03-31","sig":"t5","pnl":-0.0287},{"date":"2017-06-30","sig":"t5","pnl":-0.0332},{"date":"2017-09-30","sig":"t5","pnl":-0.0263},{"date":"2017-12-31","sig":"t5","pnl":-0.0194},{"date":"2018-03-31","sig":"t5","pnl":-0.0173},{"date":"2018-06-30","sig":"t5","pnl":-0.0156},{"date":"2018-09-30","sig":"t5","pnl":-0.0346},{"date":"2018-12-31","sig":"t5","pnl":-0.0581},{"date":"2019-03-31","sig":"t5","pnl":-0.0997},{"date":"2019-06-30","sig":"t5","pnl":-0.1107},{"date":"2019-09-30","sig":"t5","pnl":-0.1273},{"date":"2019-12-31","sig":"t5","pnl":-0.1481},{"date":"2020-03-31","sig":"t5","pnl":-0.11},{"date":"2020-06-30","sig":"t5","pnl":-0.1654},{"date":"2020-09-30","sig":"t5","pnl":-0.1481},{"date":"2020-12-31","sig":"t5","pnl":-0.1637},{"date":"2021-03-31","sig":"t5","pnl":-0.1626},{"date":"2021-06-30","sig":"t5","pnl":-0.1817},{"date":"2021-09-30","sig":"t5","pnl":-0.2007},{"date":"2021-12-31","sig":"t5","pnl":-0.1938}
],
"w42":[
{"date":"2013-12-31","sig":"v1","pnl":-0.0142},{"date":"2014-03-31","sig":"v1","pnl":-0.0086},{"date":"2014-06-30","sig":"v1","pnl":-0.0065},{"date":"2014-09-30","sig":"v1","pnl":-0.012},{"date":"2014-12-31","sig":"v1","pnl":-0.0172},{"date":"2015-03-31","sig":"v1","pnl":-0.0314},{"date":"2015-06-30","sig":"v1","pnl":-0.0314},{"date":"2015-09-30","sig":"v1","pnl":-0.04},{"date":"2015-12-31","sig":"v1","pnl":-0.043},{"date":"2016-03-31","sig":"v1","pnl":-0.0456},{"date":"2016-06-30","sig":"v1","pnl":-0.0456},{"date":"2016-09-30","sig":"v1","pnl":-0.0486},{"date":"2016-12-31","sig":"v1","pnl":-0.0486},{"date":"2017-03-31","sig":"v1","pnl":-0.0465},{"date":"2017-06-30","sig":"v1","pnl":-0.0486},{"date":"2017-09-30","sig":"v1","pnl":-0.0508},{"date":"2017-12-31","sig":"v1","pnl":-0.0628},{"date":"2018-03-31","sig":"v1","pnl":-0.08},{"date":"2018-06-30","sig":"v1","pnl":-0.0886},{"date":"2018-09-30","sig":"v1","pnl":-0.0938},{"date":"2018-12-31","sig":"v1","pnl":-0.0873},{"date":"2019-03-31","sig":"v1","pnl":-0.0839},{"date":"2019-06-30","sig":"v1","pnl":-0.0818},{"date":"2019-09-30","sig":"v1","pnl":-0.0809},{"date":"2019-12-31","sig":"v1","pnl":-0.0822},{"date":"2020-03-31","sig":"v1","pnl":-0.0865},{"date":"2020-06-30","sig":"v1","pnl":-0.1089},{"date":"2020-09-30","sig":"v1","pnl":-0.1102},{"date":"2020-12-31","sig":"v1","pnl":-0.1067},{"date":"2021-03-31","sig":"v1","pnl":-0.1003},{"date":"2021-06-30","sig":"v1","pnl":-0.0904},{"date":"2021-09-30","sig":"v1","pnl":-0.0904},{"date":"2021-12-31","sig":"v1","pnl":-0.0886},
{"date":"2013-12-31","sig":"t1","pnl":-0.0022},{"date":"2014-03-31","sig":"t1","pnl":0.0039},{"date":"2014-06-30","sig":"t1","pnl":0.0086},{"date":"2014-09-30","sig":"t1","pnl":0.0095},{"date":"2014-12-31","sig":"t1","pnl":0.0052},{"date":"2015-03-31","sig":"t1","pnl":0.0052},{"date":"2015-06-30","sig":"t1","pnl":0.0069},{"date":"2015-09-30","sig":"t1","pnl":0.0009},{"date":"2015-12-31","sig":"t1","pnl":-0.0047},{"date":"2016-03-31","sig":"t1","pnl":-0.0133},{"date":"2016-06-30","sig":"t1","pnl":-0.0155},{"date":"2016-09-30","sig":"t1","pnl":-0.025},{"date":"2016-12-31","sig":"t1","pnl":-0.0379},{"date":"2017-03-31","sig":"t1","pnl":-0.0336},{"date":"2017-06-30","sig":"t1","pnl":-0.0336},{"date":"2017-09-30","sig":"t1","pnl":-0.0129},{"date":"2017-12-31","sig":"t1","pnl":-0.0241},{"date":"2018-03-31","sig":"t1","pnl":-0.0164},{"date":"2018-06-30","sig":"t1","pnl":-0.0142},{"date":"2018-09-30","sig":"t1","pnl":-0.0194},{"date":"2018-12-31","sig":"t1","pnl":-0.0306},{"date":"2019-03-31","sig":"t1","pnl":-0.0516},{"date":"2019-06-30","sig":"t1","pnl":-0.0456},{"date":"2019-09-30","sig":"t1","pnl":-0.04},{"date":"2019-12-31","sig":"t1","pnl":-0.0542},{"date":"2020-03-31","sig":"t1","pnl":-0.025},{"date":"2020-06-30","sig":"t1","pnl":-0.0594},{"date":"2020-09-30","sig":"t1","pnl":-0.0443},{"date":"2020-12-31","sig":"t1","pnl":-0.0753},{"date":"2021-03-31","sig":"t1","pnl":-0.0981},{"date":"2021-06-30","sig":"t1","pnl":-0.0852},{"date":"2021-09-30","sig":"t1","pnl":-0.0904},{"date":"2021-12-31","sig":"t1","pnl":-0.0886},
{"date":"2013-12-31","sig":"v2","pnl":-0.0185},{"date":"2014-03-31","sig":"v2","pnl":-0.012},{"date":"2014-06-30","sig":"v2","pnl":-0.009},{"date":"2014-09-30","sig":"v2","pnl":-0.0142},{"date":"2014-12-31","sig":"v2","pnl":-0.0172},{"date":"2015-03-31","sig":"v2","pnl":-0.0336},{"date":"2015-06-30","sig":"v2","pnl":-0.0344},{"date":"2015-09-30","sig":"v2","pnl":-0.0387},{"date":"2015-12-31","sig":"v2","pnl":-0.04},{"date":"2016-03-31","sig":"v2","pnl":-0.0465},{"date":"2016-06-30","sig":"v2","pnl":-0.0456},{"date":"2016-09-30","sig":"v2","pnl":-0.0456},{"date":"2016-12-31","sig":"v2","pnl":-0.0508},{"date":"2017-03-31","sig":"v2","pnl":-0.0499},{"date":"2017-06-30","sig":"v2","pnl":-0.0499},{"date":"2017-09-30","sig":"v2","pnl":-0.0516},{"date":"2017-12-31","sig":"v2","pnl":-0.0671},{"date":"2018-03-31","sig":"v2","pnl":-0.0843},{"date":"2018-06-30","sig":"v2","pnl":-0.0895},{"date":"2018-09-30","sig":"v2","pnl":-0.0951},{"date":"2018-12-31","sig":"v2","pnl":-0.0852},{"date":"2019-03-31","sig":"v2","pnl":-0.0843},{"date":"2019-06-30","sig":"v2","pnl":-0.0787},{"date":"2019-09-30","sig":"v2","pnl":-0.0787},{"date":"2019-12-31","sig":"v2","pnl":-0.08},{"date":"2020-03-31","sig":"v2","pnl":-0.0809},{"date":"2020-06-30","sig":"v2","pnl":-0.1098},{"date":"2020-09-30","sig":"v2","pnl":-0.1102},{"date":"2020-12-31","sig":"v2","pnl":-0.1102},{"date":"2021-03-31","sig":"v2","pnl":-0.1037},{"date":"2021-06-30","sig":"v2","pnl":-0.0917},{"date":"2021-09-30","sig":"v2","pnl":-0.0917},{"date":"2021-12-31","sig":"v2","pnl":-0.0886},
{"date":"2013-12-31","sig":"t2","pnl":-0.0047},{"date":"2014-03-31","sig":"t2","pnl":0.0017},{"date":"2014-06-30","sig":"t2","pnl":0.0039},{"date":"2014-09-30","sig":"t2","pnl":0.0052},{"date":"2014-12-31","sig":"t2","pnl":0},{"date":"2015-03-31","sig":"t2","pnl":0.0017},{"date":"2015-06-30","sig":"t2","pnl":0.003},{"date":"2015-09-30","sig":"t2","pnl":0.0017},{"date":"2015-12-31","sig":"t2","pnl":-0.0069},{"date":"2016-03-31","sig":"t2","pnl":-0.0155},{"date":"2016-06-30","sig":"t2","pnl":-0.0228},{"date":"2016-09-30","sig":"t2","pnl":-0.0357},{"date":"2016-12-31","sig":"t2","pnl":-0.0581},{"date":"2017-03-31","sig":"t2","pnl":-0.0551},{"date":"2017-06-30","sig":"t2","pnl":-0.0529},{"date":"2017-09-30","sig":"t2","pnl":-0.0293},{"date":"2017-12-31","sig":"t2","pnl":-0.0387},{"date":"2018-03-31","sig":"t2","pnl":-0.0241},{"date":"2018-06-30","sig":"t2","pnl":-0.0228},{"date":"2018-09-30","sig":"t2","pnl":-0.0284},{"date":"2018-12-31","sig":"t2","pnl":-0.0443},{"date":"2019-03-31","sig":"t2","pnl":-0.068},{"date":"2019-06-30","sig":"t2","pnl":-0.0602},{"date":"2019-09-30","sig":"t2","pnl":-0.0551},{"date":"2019-12-31","sig":"t2","pnl":-0.0731},{"date":"2020-03-31","sig":"t2","pnl":-0.0349},{"date":"2020-06-30","sig":"t2","pnl":-0.0766},{"date":"2020-09-30","sig":"t2","pnl":-0.0628},{"date":"2020-12-31","sig":"t2","pnl":-0.1024},{"date":"2021-03-31","sig":"t2","pnl":-0.1317},{"date":"2021-06-30","sig":"t2","pnl":-0.1166},{"date":"2021-09-30","sig":"t2","pnl":-0.1274},{"date":"2021-12-31","sig":"t2","pnl":-0.1226},
{"date":"2013-12-31","sig":"v3","pnl":-0.0164},{"date":"2014-03-31","sig":"v3","pnl":-0.0099},{"date":"2014-06-30","sig":"v3","pnl":-0.0086},{"date":"2014-09-30","sig":"v3","pnl":-0.0155},{"date":"2014-12-31","sig":"v3","pnl":-0.0207},{"date":"2015-03-31","sig":"v3","pnl":-0.0357},{"date":"2015-06-30","sig":"v3","pnl":-0.037},{"date":"2015-09-30","sig":"v3","pnl":-0.0422},{"date":"2015-12-31","sig":"v3","pnl":-0.0336},{"date":"2016-03-31","sig":"v3","pnl":-0.0336},{"date":"2016-06-30","sig":"v3","pnl":-0.0336},{"date":"2016-09-30","sig":"v3","pnl":-0.0262},{"date":"2016-12-31","sig":"v3","pnl":-0.0327},{"date":"2017-03-31","sig":"v3","pnl":-0.0336},{"date":"2017-06-30","sig":"v3","pnl":-0.0344},{"date":"2017-09-30","sig":"v3","pnl":-0.0413},{"date":"2017-12-31","sig":"v3","pnl":-0.0585},{"date":"2018-03-31","sig":"v3","pnl":-0.0796},{"date":"2018-06-30","sig":"v3","pnl":-0.0865},{"date":"2018-09-30","sig":"v3","pnl":-0.0938},{"date":"2018-12-31","sig":"v3","pnl":-0.0908},{"date":"2019-03-31","sig":"v3","pnl":-0.0839},{"date":"2019-06-30","sig":"v3","pnl":-0.0775},{"date":"2019-09-30","sig":"v3","pnl":-0.0744},{"date":"2019-12-31","sig":"v3","pnl":-0.0775},{"date":"2020-03-31","sig":"v3","pnl":-0.0775},{"date":"2020-06-30","sig":"v3","pnl":-0.1003},{"date":"2020-09-30","sig":"v3","pnl":-0.0972},{"date":"2020-12-31","sig":"v3","pnl":-0.0968},{"date":"2021-03-31","sig":"v3","pnl":-0.0839},{"date":"2021-06-30","sig":"v3","pnl":-0.0723},{"date":"2021-09-30","sig":"v3","pnl":-0.0736},{"date":"2021-12-31","sig":"v3","pnl":-0.0645},
{"date":"2013-12-31","sig":"t3","pnl":-0.009},{"date":"2014-03-31","sig":"t3","pnl":-0.0047},{"date":"2014-06-30","sig":"t3","pnl":-0.0043},{"date":"2014-09-30","sig":"t3","pnl":-0.0047},{"date":"2014-12-31","sig":"t3","pnl":-0.0129},{"date":"2015-03-31","sig":"t3","pnl":-0.0215},{"date":"2015-06-30","sig":"t3","pnl":-0.0228},{"date":"2015-09-30","sig":"t3","pnl":-0.025},{"date":"2015-12-31","sig":"t3","pnl":-0.0357},{"date":"2016-03-31","sig":"t3","pnl":-0.0435},{"date":"2016-06-30","sig":"t3","pnl":-0.0465},{"date":"2016-09-30","sig":"t3","pnl":-0.0615},{"date":"2016-12-31","sig":"t3","pnl":-0.0882},{"date":"2017-03-31","sig":"t3","pnl":-0.0886},{"date":"2017-06-30","sig":"t3","pnl":-0.0873},{"date":"2017-09-30","sig":"t3","pnl":-0.0645},{"date":"2017-12-31","sig":"t3","pnl":-0.0585},{"date":"2018-03-31","sig":"t3","pnl":-0.0379},{"date":"2018-06-30","sig":"t3","pnl":-0.0366},{"date":"2018-09-30","sig":"t3","pnl":-0.043},{"date":"2018-12-31","sig":"t3","pnl":-0.068},{"date":"2019-03-31","sig":"t3","pnl":-0.0925},{"date":"2019-06-30","sig":"t3","pnl":-0.0775},{"date":"2019-09-30","sig":"t3","pnl":-0.0671},{"date":"2019-12-31","sig":"t3","pnl":-0.0908},{"date":"2020-03-31","sig":"t3","pnl":-0.0443},{"date":"2020-06-30","sig":"t3","pnl":-0.1033},{"date":"2020-09-30","sig":"t3","pnl":-0.0882},{"date":"2020-12-31","sig":"t3","pnl":-0.1368},{"date":"2021-03-31","sig":"t3","pnl":-0.1768},{"date":"2021-06-30","sig":"t3","pnl":-0.1614},{"date":"2021-09-30","sig":"t3","pnl":-0.1768},{"date":"2021-12-31","sig":"t3","pnl":-0.1743},
{"date":"2013-12-31","sig":"v4","pnl":-0.0112},{"date":"2014-03-31","sig":"v4","pnl":-0.0142},{"date":"2014-06-30","sig":"v4","pnl":-0.009},{"date":"2014-09-30","sig":"v4","pnl":-0.0133},{"date":"2014-12-31","sig":"v4","pnl":-0.0215},{"date":"2015-03-31","sig":"v4","pnl":-0.0473},{"date":"2015-06-30","sig":"v4","pnl":-0.0508},{"date":"2015-09-30","sig":"v4","pnl":-0.0615},{"date":"2015-12-31","sig":"v4","pnl":-0.0658},{"date":"2016-03-31","sig":"v4","pnl":-0.0585},{"date":"2016-06-30","sig":"v4","pnl":-0.0572},{"date":"2016-09-30","sig":"v4","pnl":-0.0559},{"date":"2016-12-31","sig":"v4","pnl":-0.0731},{"date":"2017-03-31","sig":"v4","pnl":-0.0753},{"date":"2017-06-30","sig":"v4","pnl":-0.0809},{"date":"2017-09-30","sig":"v4","pnl":-0.0787},{"date":"2017-12-31","sig":"v4","pnl":-0.0938},{"date":"2018-03-31","sig":"v4","pnl":-0.1209},{"date":"2018-06-30","sig":"v4","pnl":-0.1291},{"date":"2018-09-30","sig":"v4","pnl":-0.1261},{"date":"2018-12-31","sig":"v4","pnl":-0.1261},{"date":"2019-03-31","sig":"v4","pnl":-0.1239},{"date":"2019-06-30","sig":"v4","pnl":-0.1153},{"date":"2019-09-30","sig":"v4","pnl":-0.1089},{"date":"2019-12-31","sig":"v4","pnl":-0.1209},{"date":"2020-03-31","sig":"v4","pnl":-0.111},{"date":"2020-06-30","sig":"v4","pnl":-0.1239},{"date":"2020-09-30","sig":"v4","pnl":-0.1218},{"date":"2020-12-31","sig":"v4","pnl":-0.1175},{"date":"2021-03-31","sig":"v4","pnl":-0.1119},{"date":"2021-06-30","sig":"v4","pnl":-0.0925},{"date":"2021-09-30","sig":"v4","pnl":-0.0968},{"date":"2021-12-31","sig":"v4","pnl":-0.0852},
{"date":"2013-12-31","sig":"t4","pnl":-0.0099},{"date":"2014-03-31","sig":"t4","pnl":-0.0207},{"date":"2014-06-30","sig":"t4","pnl":-0.0198},{"date":"2014-09-30","sig":"t4","pnl":-0.0215},{"date":"2014-12-31","sig":"t4","pnl":-0.0357},{"date":"2015-03-31","sig":"t4","pnl":-0.0581},{"date":"2015-06-30","sig":"t4","pnl":-0.0628},{"date":"2015-09-30","sig":"t4","pnl":-0.0628},{"date":"2015-12-31","sig":"t4","pnl":-0.0671},{"date":"2016-03-31","sig":"t4","pnl":-0.0878},{"date":"2016-06-30","sig":"t4","pnl":-0.0878},{"date":"2016-09-30","sig":"t4","pnl":-0.1024},{"date":"2016-12-31","sig":"t4","pnl":-0.1282},{"date":"2017-03-31","sig":"t4","pnl":-0.1269},{"date":"2017-06-30","sig":"t4","pnl":-0.1295},{"date":"2017-09-30","sig":"t4","pnl":-0.096},{"date":"2017-12-31","sig":"t4","pnl":-0.1003},{"date":"2018-03-31","sig":"t4","pnl":-0.0843},{"date":"2018-06-30","sig":"t4","pnl":-0.0865},{"date":"2018-09-30","sig":"t4","pnl":-0.0929},{"date":"2018-12-31","sig":"t4","pnl":-0.1218},{"date":"2019-03-31","sig":"t4","pnl":-0.1527},{"date":"2019-06-30","sig":"t4","pnl":-0.1398},{"date":"2019-09-30","sig":"t4","pnl":-0.1239},{"date":"2019-12-31","sig":"t4","pnl":-0.151},{"date":"2020-03-31","sig":"t4","pnl":-0.0938},{"date":"2020-06-30","sig":"t4","pnl":-0.1657},{"date":"2020-09-30","sig":"t4","pnl":-0.1463},{"date":"2020-12-31","sig":"t4","pnl":-0.2078},{"date":"2021-03-31","sig":"t4","pnl":-0.2466},{"date":"2021-06-30","sig":"t4","pnl":-0.2306},{"date":"2021-09-30","sig":"t4","pnl":-0.2487},{"date":"2021-12-31","sig":"t4","pnl":-0.2487},
{"date":"2013-12-31","sig":"v5","pnl":-0.0258},{"date":"2014-03-31","sig":"v5","pnl":-0.0185},{"date":"2014-06-30","sig":"v5","pnl":-0.0155},{"date":"2014-09-30","sig":"v5","pnl":-0.0215},{"date":"2014-12-31","sig":"v5","pnl":-0.0336},{"date":"2015-03-31","sig":"v5","pnl":-0.0775},{"date":"2015-06-30","sig":"v5","pnl":-0.0766},{"date":"2015-09-30","sig":"v5","pnl":-0.0938},{"date":"2015-12-31","sig":"v5","pnl":-0.0968},{"date":"2016-03-31","sig":"v5","pnl":-0.0938},{"date":"2016-06-30","sig":"v5","pnl":-0.0873},{"date":"2016-09-30","sig":"v5","pnl":-0.0929},{"date":"2016-12-31","sig":"v5","pnl":-0.099},{"date":"2017-03-31","sig":"v5","pnl":-0.0917},{"date":"2017-06-30","sig":"v5","pnl":-0.0938},{"date":"2017-09-30","sig":"v5","pnl":-0.0981},{"date":"2017-12-31","sig":"v5","pnl":-0.1317},{"date":"2018-03-31","sig":"v5","pnl":-0.1678},{"date":"2018-06-30","sig":"v5","pnl":-0.1747},{"date":"2018-09-30","sig":"v5","pnl":-0.1764},{"date":"2018-12-31","sig":"v5","pnl":-0.1678},{"date":"2019-03-31","sig":"v5","pnl":-0.1596},{"date":"2019-06-30","sig":"v5","pnl":-0.1553},{"date":"2019-09-30","sig":"v5","pnl":-0.1519},{"date":"2019-12-31","sig":"v5","pnl":-0.1575},{"date":"2020-03-31","sig":"v5","pnl":-0.1153},{"date":"2020-06-30","sig":"v5","pnl":-0.1239},{"date":"2020-09-30","sig":"v5","pnl":-0.1317},{"date":"2020-12-31","sig":"v5","pnl":-0.1355},{"date":"2021-03-31","sig":"v5","pnl":-0.1231},{"date":"2021-06-30","sig":"v5","pnl":-0.0981},{"date":"2021-09-30","sig":"v5","pnl":-0.1119},{"date":"2021-12-31","sig":"v5","pnl":-0.0925},
{"date":"2013-12-31","sig":"t5","pnl":-0.0241},{"date":"2014-03-31","sig":"t5","pnl":-0.0164},{"date":"2014-06-30","sig":"t5","pnl":-0.0142},{"date":"2014-09-30","sig":"t5","pnl":-0.0215},{"date":"2014-12-31","sig":"t5","pnl":-0.0327},{"date":"2015-03-31","sig":"t5","pnl":-0.0473},{"date":"2015-06-30","sig":"t5","pnl":-0.0594},{"date":"2015-09-30","sig":"t5","pnl":-0.0422},{"date":"2015-12-31","sig":"t5","pnl":-0.0486},{"date":"2016-03-31","sig":"t5","pnl":-0.0787},{"date":"2016-06-30","sig":"t5","pnl":-0.0671},{"date":"2016-09-30","sig":"t5","pnl":-0.0701},{"date":"2016-12-31","sig":"t5","pnl":-0.0809},{"date":"2017-03-31","sig":"t5","pnl":-0.0779},{"date":"2017-06-30","sig":"t5","pnl":-0.0792},{"date":"2017-09-30","sig":"t5","pnl":-0.0564},{"date":"2017-12-31","sig":"t5","pnl":-0.0551},{"date":"2018-03-31","sig":"t5","pnl":-0.0473},{"date":"2018-06-30","sig":"t5","pnl":-0.0529},{"date":"2018-09-30","sig":"t5","pnl":-0.0538},{"date":"2018-12-31","sig":"t5","pnl":-0.083},{"date":"2019-03-31","sig":"t5","pnl":-0.1325},{"date":"2019-06-30","sig":"t5","pnl":-0.1209},{"date":"2019-09-30","sig":"t5","pnl":-0.0947},{"date":"2019-12-31","sig":"t5","pnl":-0.1325},{"date":"2020-03-31","sig":"t5","pnl":-0.0671},{"date":"2020-06-30","sig":"t5","pnl":-0.1743},{"date":"2020-09-30","sig":"t5","pnl":-0.1368},{"date":"2020-12-31","sig":"t5","pnl":-0.21},{"date":"2021-03-31","sig":"t5","pnl":-0.2466},{"date":"2021-06-30","sig":"t5","pnl":-0.2272},{"date":"2021-09-30","sig":"t5","pnl":-0.2521},{"date":"2021-12-31","sig":"t5","pnl":-0.2457}
],
"w63":[
{"date":"2013-12-31","sig":"v1","pnl":-0.0172},{"date":"2014-03-31","sig":"v1","pnl":-0.0162},{"date":"2014-06-30","sig":"v1","pnl":-0.0032},{"date":"2014-09-30","sig":"v1","pnl":-0.012},{"date":"2014-12-31","sig":"v1","pnl":-0.0136},{"date":"2015-03-31","sig":"v1","pnl":-0.0334},{"date":"2015-06-30","sig":"v1","pnl":-0.0357},{"date":"2015-09-30","sig":"v1","pnl":-0.0461},{"date":"2015-12-31","sig":"v1","pnl":-0.0464},{"date":"2016-03-31","sig":"v1","pnl":-0.0519},{"date":"2016-06-30","sig":"v1","pnl":-0.0341},{"date":"2016-09-30","sig":"v1","pnl":-0.0351},{"date":"2016-12-31","sig":"v1","pnl":-0.0396},{"date":"2017-03-31","sig":"v1","pnl":-0.038},{"date":"2017-06-30","sig":"v1","pnl":-0.0364},{"date":"2017-09-30","sig":"v1","pnl":-0.0412},{"date":"2017-12-31","sig":"v1","pnl":-0.0601},{"date":"2018-03-31","sig":"v1","pnl":-0.0737},{"date":"2018-06-30","sig":"v1","pnl":-0.0789},{"date":"2018-09-30","sig":"v1","pnl":-0.0838},{"date":"2018-12-31","sig":"v1","pnl":-0.0682},{"date":"2019-03-31","sig":"v1","pnl":-0.0656},{"date":"2019-06-30","sig":"v1","pnl":-0.0666},{"date":"2019-09-30","sig":"v1","pnl":-0.0698},{"date":"2019-12-31","sig":"v1","pnl":-0.0666},{"date":"2020-03-31","sig":"v1","pnl":-0.0682},{"date":"2020-06-30","sig":"v1","pnl":-0.0828},{"date":"2020-09-30","sig":"v1","pnl":-0.0763},{"date":"2020-12-31","sig":"v1","pnl":-0.0698},{"date":"2021-03-31","sig":"v1","pnl":-0.0753},{"date":"2021-06-30","sig":"v1","pnl":-0.0753},{"date":"2021-09-30","sig":"v1","pnl":-0.0682},{"date":"2021-12-31","sig":"v1","pnl":-0.0659},
{"date":"2013-12-31","sig":"t1","pnl":-0.0023},{"date":"2014-03-31","sig":"t1","pnl":-0.0065},{"date":"2014-06-30","sig":"t1","pnl":0.0016},{"date":"2014-09-30","sig":"t1","pnl":-0.0016},{"date":"2014-12-31","sig":"t1","pnl":-0.0049},{"date":"2015-03-31","sig":"t1","pnl":-0.0071},{"date":"2015-06-30","sig":"t1","pnl":-0.0016},{"date":"2015-09-30","sig":"t1","pnl":-0.012},{"date":"2015-12-31","sig":"t1","pnl":-0.0032},{"date":"2016-03-31","sig":"t1","pnl":-0.0081},{"date":"2016-06-30","sig":"t1","pnl":-0.0039},{"date":"2016-09-30","sig":"t1","pnl":-0.0153},{"date":"2016-12-31","sig":"t1","pnl":-0.0282},{"date":"2017-03-31","sig":"t1","pnl":-0.0211},{"date":"2017-06-30","sig":"t1","pnl":-0.0227},{"date":"2017-09-30","sig":"t1","pnl":-0.0114},{"date":"2017-12-31","sig":"t1","pnl":-0.0334},{"date":"2018-03-31","sig":"t1","pnl":-0.0244},{"date":"2018-06-30","sig":"t1","pnl":-0.0221},{"date":"2018-09-30","sig":"t1","pnl":-0.0308},{"date":"2018-12-31","sig":"t1","pnl":-0.0396},{"date":"2019-03-31","sig":"t1","pnl":-0.0591},{"date":"2019-06-30","sig":"t1","pnl":-0.0536},{"date":"2019-09-30","sig":"t1","pnl":-0.0575},{"date":"2019-12-31","sig":"t1","pnl":-0.0714},{"date":"2020-03-31","sig":"t1","pnl":-0.0211},{"date":"2020-06-30","sig":"t1","pnl":-0.0373},{"date":"2020-09-30","sig":"t1","pnl":-0.0188},{"date":"2020-12-31","sig":"t1","pnl":-0.0481},{"date":"2021-03-31","sig":"t1","pnl":-0.0578},{"date":"2021-06-30","sig":"t1","pnl":-0.0529},{"date":"2021-09-30","sig":"t1","pnl":-0.0542},{"date":"2021-12-31","sig":"t1","pnl":-0.0552},
{"date":"2013-12-31","sig":"v2","pnl":-0.0221},{"date":"2014-03-31","sig":"v2","pnl":-0.0227},{"date":"2014-06-30","sig":"v2","pnl":-0.014},{"date":"2014-09-30","sig":"v2","pnl":-0.0188},{"date":"2014-12-31","sig":"v2","pnl":-0.0188},{"date":"2015-03-31","sig":"v2","pnl":-0.0357},{"date":"2015-06-30","sig":"v2","pnl":-0.0416},{"date":"2015-09-30","sig":"v2","pnl":-0.0471},{"date":"2015-12-31","sig":"v2","pnl":-0.0455},{"date":"2016-03-31","sig":"v2","pnl":-0.0545},{"date":"2016-06-30","sig":"v2","pnl":-0.0334},{"date":"2016-09-30","sig":"v2","pnl":-0.0318},{"date":"2016-12-31","sig":"v2","pnl":-0.038},{"date":"2017-03-31","sig":"v2","pnl":-0.038},{"date":"2017-06-30","sig":"v2","pnl":-0.0357},{"date":"2017-09-30","sig":"v2","pnl":-0.0448},{"date":"2017-12-31","sig":"v2","pnl":-0.0633},{"date":"2018-03-31","sig":"v2","pnl":-0.0779},{"date":"2018-06-30","sig":"v2","pnl":-0.0753},{"date":"2018-09-30","sig":"v2","pnl":-0.0795},{"date":"2018-12-31","sig":"v2","pnl":-0.0649},{"date":"2019-03-31","sig":"v2","pnl":-0.0601},{"date":"2019-06-30","sig":"v2","pnl":-0.0591},{"date":"2019-09-30","sig":"v2","pnl":-0.0633},{"date":"2019-12-31","sig":"v2","pnl":-0.0617},{"date":"2020-03-31","sig":"v2","pnl":-0.0545},{"date":"2020-06-30","sig":"v2","pnl":-0.0698},{"date":"2020-09-30","sig":"v2","pnl":-0.0601},{"date":"2020-12-31","sig":"v2","pnl":-0.0568},{"date":"2021-03-31","sig":"v2","pnl":-0.0643},{"date":"2021-06-30","sig":"v2","pnl":-0.0643},{"date":"2021-09-30","sig":"v2","pnl":-0.0594},{"date":"2021-12-31","sig":"v2","pnl":-0.0578},
{"date":"2013-12-31","sig":"t2","pnl":-0.0055},{"date":"2014-03-31","sig":"t2","pnl":-0.0091},{"date":"2014-06-30","sig":"t2","pnl":0},{"date":"2014-09-30","sig":"t2","pnl":-0.0075},{"date":"2014-12-31","sig":"t2","pnl":-0.013},{"date":"2015-03-31","sig":"t2","pnl":-0.0097},{"date":"2015-06-30","sig":"t2","pnl":-0.0023},{"date":"2015-09-30","sig":"t2","pnl":-0.0075},{"date":"2015-12-31","sig":"t2","pnl":0.0006},{"date":"2016-03-31","sig":"t2","pnl":-0.0026},{"date":"2016-06-30","sig":"t2","pnl":0.0006},{"date":"2016-09-30","sig":"t2","pnl":-0.013},{"date":"2016-12-31","sig":"t2","pnl":-0.0341},{"date":"2017-03-31","sig":"t2","pnl":-0.0282},{"date":"2017-06-30","sig":"t2","pnl":-0.0282},{"date":"2017-09-30","sig":"t2","pnl":-0.0136},{"date":"2017-12-31","sig":"t2","pnl":-0.0367},{"date":"2018-03-31","sig":"t2","pnl":-0.0211},{"date":"2018-06-30","sig":"t2","pnl":-0.0211},{"date":"2018-09-30","sig":"t2","pnl":-0.0334},{"date":"2018-12-31","sig":"t2","pnl":-0.0471},{"date":"2019-03-31","sig":"t2","pnl":-0.061},{"date":"2019-06-30","sig":"t2","pnl":-0.0591},{"date":"2019-09-30","sig":"t2","pnl":-0.0649},{"date":"2019-12-31","sig":"t2","pnl":-0.0834},{"date":"2020-03-31","sig":"t2","pnl":-0.0195},{"date":"2020-06-30","sig":"t2","pnl":-0.0406},{"date":"2020-09-30","sig":"t2","pnl":-0.0227},{"date":"2020-12-31","sig":"t2","pnl":-0.0617},{"date":"2021-03-31","sig":"t2","pnl":-0.0708},{"date":"2021-06-30","sig":"t2","pnl":-0.0708},{"date":"2021-09-30","sig":"t2","pnl":-0.0753},{"date":"2021-12-31","sig":"t2","pnl":-0.0753},
{"date":"2013-12-31","sig":"v3","pnl":-0.0218},{"date":"2014-03-31","sig":"v3","pnl":-0.0162},{"date":"2014-06-30","sig":"v3","pnl":-0.0107},{"date":"2014-09-30","sig":"v3","pnl":-0.013},{"date":"2014-12-31","sig":"v3","pnl":-0.0244},{"date":"2015-03-31","sig":"v3","pnl":-0.0416},{"date":"2015-06-30","sig":"v3","pnl":-0.0406},{"date":"2015-09-30","sig":"v3","pnl":-0.0487},{"date":"2015-12-31","sig":"v3","pnl":-0.0318},{"date":"2016-03-31","sig":"v3","pnl":-0.0318},{"date":"2016-06-30","sig":"v3","pnl":-0.0091},{"date":"2016-09-30","sig":"v3","pnl":-0.0026},{"date":"2016-12-31","sig":"v3","pnl":-0.0146},{"date":"2017-03-31","sig":"v3","pnl":-0.0172},{"date":"2017-06-30","sig":"v3","pnl":-0.0162},{"date":"2017-09-30","sig":"v3","pnl":-0.0286},{"date":"2017-12-31","sig":"v3","pnl":-0.0545},{"date":"2018-03-31","sig":"v3","pnl":-0.0682},{"date":"2018-06-30","sig":"v3","pnl":-0.0672},{"date":"2018-09-30","sig":"v3","pnl":-0.0714},{"date":"2018-12-31","sig":"v3","pnl":-0.0633},{"date":"2019-03-31","sig":"v3","pnl":-0.0529},{"date":"2019-06-30","sig":"v3","pnl":-0.0481},{"date":"2019-09-30","sig":"v3","pnl":-0.051},{"date":"2019-12-31","sig":"v3","pnl":-0.0513},{"date":"2020-03-31","sig":"v3","pnl":-0.0471},{"date":"2020-06-30","sig":"v3","pnl":-0.0584},{"date":"2020-09-30","sig":"v3","pnl":-0.0429},{"date":"2020-12-31","sig":"v3","pnl":-0.0416},{"date":"2021-03-31","sig":"v3","pnl":-0.0438},{"date":"2021-06-30","sig":"v3","pnl":-0.0455},{"date":"2021-09-30","sig":"v3","pnl":-0.0438},{"date":"2021-12-31","sig":"v3","pnl":-0.0341},
{"date":"2013-12-31","sig":"t3","pnl":-0.0123},{"date":"2014-03-31","sig":"t3","pnl":-0.0156},{"date":"2014-06-30","sig":"t3","pnl":-0.0065},{"date":"2014-09-30","sig":"t3","pnl":-0.014},{"date":"2014-12-31","sig":"t3","pnl":-0.0244},{"date":"2015-03-31","sig":"t3","pnl":-0.0302},{"date":"2015-06-30","sig":"t3","pnl":-0.0282},{"date":"2015-09-30","sig":"t3","pnl":-0.0325},{"date":"2015-12-31","sig":"t3","pnl":-0.0185},{"date":"2016-03-31","sig":"t3","pnl":-0.0188},{"date":"2016-06-30","sig":"t3","pnl":-0.0104},{"date":"2016-09-30","sig":"t3","pnl":-0.025},{"date":"2016-12-31","sig":"t3","pnl":-0.0487},{"date":"2017-03-31","sig":"t3","pnl":-0.0455},{"date":"2017-06-30","sig":"t3","pnl":-0.0471},{"date":"2017-09-30","sig":"t3","pnl":-0.0234},{"date":"2017-12-31","sig":"t3","pnl":-0.0455},{"date":"2018-03-31","sig":"t3","pnl":-0.0227},{"date":"2018-06-30","sig":"t3","pnl":-0.026},{"date":"2018-09-30","sig":"t3","pnl":-0.0383},{"date":"2018-12-31","sig":"t3","pnl":-0.0633},{"date":"2019-03-31","sig":"t3","pnl":-0.0805},{"date":"2019-06-30","sig":"t3","pnl":-0.0731},{"date":"2019-09-30","sig":"t3","pnl":-0.0763},{"date":"2019-12-31","sig":"t3","pnl":-0.099},{"date":"2020-03-31","sig":"t3","pnl":-0.0153},{"date":"2020-06-30","sig":"t3","pnl":-0.0519},{"date":"2020-09-30","sig":"t3","pnl":-0.0334},{"date":"2020-12-31","sig":"t3","pnl":-0.0821},{"date":"2021-03-31","sig":"t3","pnl":-0.1062},{"date":"2021-06-30","sig":"t3","pnl":-0.1006},{"date":"2021-09-30","sig":"t3","pnl":-0.1055},{"date":"2021-12-31","sig":"t3","pnl":-0.1055},
{"date":"2013-12-31","sig":"v4","pnl":-0.0172},{"date":"2014-03-31","sig":"v4","pnl":-0.0269},{"date":"2014-06-30","sig":"v4","pnl":-0.0097},{"date":"2014-09-30","sig":"v4","pnl":-0.0205},{"date":"2014-12-31","sig":"v4","pnl":-0.0266},{"date":"2015-03-31","sig":"v4","pnl":-0.0601},{"date":"2015-06-30","sig":"v4","pnl":-0.0591},{"date":"2015-09-30","sig":"v4","pnl":-0.0812},{"date":"2015-12-31","sig":"v4","pnl":-0.0763},{"date":"2016-03-31","sig":"v4","pnl":-0.0633},{"date":"2016-06-30","sig":"v4","pnl":-0.0351},{"date":"2016-09-30","sig":"v4","pnl":-0.0325},{"date":"2016-12-31","sig":"v4","pnl":-0.0529},{"date":"2017-03-31","sig":"v4","pnl":-0.0575},{"date":"2017-06-30","sig":"v4","pnl":-0.0617},{"date":"2017-09-30","sig":"v4","pnl":-0.0656},{"date":"2017-12-31","sig":"v4","pnl":-0.0877},{"date":"2018-03-31","sig":"v4","pnl":-0.1081},{"date":"2018-06-30","sig":"v4","pnl":-0.1071},{"date":"2018-09-30","sig":"v4","pnl":-0.1016},{"date":"2018-12-31","sig":"v4","pnl":-0.099},{"date":"2019-03-31","sig":"v4","pnl":-0.0916},{"date":"2019-06-30","sig":"v4","pnl":-0.0877},{"date":"2019-09-30","sig":"v4","pnl":-0.0883},{"date":"2019-12-31","sig":"v4","pnl":-0.0958},{"date":"2020-03-31","sig":"v4","pnl":-0.0893},{"date":"2020-06-30","sig":"v4","pnl":-0.0909},{"date":"2020-09-30","sig":"v4","pnl":-0.0714},{"date":"2020-12-31","sig":"v4","pnl":-0.0682},{"date":"2021-03-31","sig":"v4","pnl":-0.0753},{"date":"2021-06-30","sig":"v4","pnl":-0.0705},{"date":"2021-09-30","sig":"v4","pnl":-0.0698},{"date":"2021-12-31","sig":"v4","pnl":-0.0617},
{"date":"2013-12-31","sig":"t4","pnl":-0.0302},{"date":"2014-03-31","sig":"t4","pnl":-0.0276},{"date":"2014-06-30","sig":"t4","pnl":-0.0244},{"date":"2014-09-30","sig":"t4","pnl":-0.0315},{"date":"2014-12-31","sig":"t4","pnl":-0.051},{"date":"2015-03-31","sig":"t4","pnl":-0.0737},{"date":"2015-06-30","sig":"t4","pnl":-0.0737},{"date":"2015-09-30","sig":"t4","pnl":-0.0714},{"date":"2015-12-31","sig":"t4","pnl":-0.0591},{"date":"2016-03-31","sig":"t4","pnl":-0.0747},{"date":"2016-06-30","sig":"t4","pnl":-0.0591},{"date":"2016-09-30","sig":"t4","pnl":-0.0705},{"date":"2016-12-31","sig":"t4","pnl":-0.0932},{"date":"2017-03-31","sig":"t4","pnl":-0.0834},{"date":"2017-06-30","sig":"t4","pnl":-0.0903},{"date":"2017-09-30","sig":"t4","pnl":-0.0682},{"date":"2017-12-31","sig":"t4","pnl":-0.0893},{"date":"2018-03-31","sig":"t4","pnl":-0.0682},{"date":"2018-06-30","sig":"t4","pnl":-0.0747},{"date":"2018-09-30","sig":"t4","pnl":-0.0844},{"date":"2018-12-31","sig":"t4","pnl":-0.1153},{"date":"2019-03-31","sig":"t4","pnl":-0.1422},{"date":"2019-06-30","sig":"t4","pnl":-0.138},{"date":"2019-09-30","sig":"t4","pnl":-0.139},{"date":"2019-12-31","sig":"t4","pnl":-0.1711},{"date":"2020-03-31","sig":"t4","pnl":-0.0672},{"date":"2020-06-30","sig":"t4","pnl":-0.1143},{"date":"2020-09-30","sig":"t4","pnl":-0.0919},{"date":"2020-12-31","sig":"t4","pnl":-0.1549},{"date":"2021-03-31","sig":"t4","pnl":-0.1828},{"date":"2021-06-30","sig":"t4","pnl":-0.1753},{"date":"2021-09-30","sig":"t4","pnl":-0.1808},{"date":"2021-12-31","sig":"t4","pnl":-0.1844},
{"date":"2013-12-31","sig":"v5","pnl":-0.0244},{"date":"2014-03-31","sig":"v5","pnl":-0.0318},{"date":"2014-06-30","sig":"v5","pnl":-0.012},{"date":"2014-09-30","sig":"v5","pnl":-0.0253},{"date":"2014-12-31","sig":"v5","pnl":-0.0266},{"date":"2015-03-31","sig":"v5","pnl":-0.0786},{"date":"2015-06-30","sig":"v5","pnl":-0.0688},{"date":"2015-09-30","sig":"v5","pnl":-0.1013},{"date":"2015-12-31","sig":"v5","pnl":-0.1},{"date":"2016-03-31","sig":"v5","pnl":-0.0925},{"date":"2016-06-30","sig":"v5","pnl":-0.0682},{"date":"2016-09-30","sig":"v5","pnl":-0.0747},{"date":"2016-12-31","sig":"v5","pnl":-0.0838},{"date":"2017-03-31","sig":"v5","pnl":-0.0763},{"date":"2017-06-30","sig":"v5","pnl":-0.0828},{"date":"2017-09-30","sig":"v5","pnl":-0.0867},{"date":"2017-12-31","sig":"v5","pnl":-0.1169},{"date":"2018-03-31","sig":"v5","pnl":-0.1494},{"date":"2018-06-30","sig":"v5","pnl":-0.1494},{"date":"2018-09-30","sig":"v5","pnl":-0.1477},{"date":"2018-12-31","sig":"v5","pnl":-0.1292},{"date":"2019-03-31","sig":"v5","pnl":-0.1097},{"date":"2019-06-30","sig":"v5","pnl":-0.111},{"date":"2019-09-30","sig":"v5","pnl":-0.1185},{"date":"2019-12-31","sig":"v5","pnl":-0.1218},{"date":"2020-03-31","sig":"v5","pnl":-0.0786},{"date":"2020-06-30","sig":"v5","pnl":-0.0812},{"date":"2020-09-30","sig":"v5","pnl":-0.0708},{"date":"2020-12-31","sig":"v5","pnl":-0.0688},{"date":"2021-03-31","sig":"v5","pnl":-0.0753},{"date":"2021-06-30","sig":"v5","pnl":-0.0617},{"date":"2021-09-30","sig":"v5","pnl":-0.0688},{"date":"2021-12-31","sig":"v5","pnl":-0.0526},
{"date":"2013-12-31","sig":"t5","pnl":-0.0253},{"date":"2014-03-31","sig":"t5","pnl":-0.0331},{"date":"2014-06-30","sig":"t5","pnl":-0.027},{"date":"2014-09-30","sig":"t5","pnl":-0.0357},{"date":"2014-12-31","sig":"t5","pnl":-0.0705},{"date":"2015-03-31","sig":"t5","pnl":-0.0688},{"date":"2015-06-30","sig":"t5","pnl":-0.1},{"date":"2015-09-30","sig":"t5","pnl":-0.0899},{"date":"2015-12-31","sig":"t5","pnl":-0.0795},{"date":"2016-03-31","sig":"t5","pnl":-0.0968},{"date":"2016-06-30","sig":"t5","pnl":-0.0633},{"date":"2016-09-30","sig":"t5","pnl":-0.0552},{"date":"2016-12-31","sig":"t5","pnl":-0.0698},{"date":"2017-03-31","sig":"t5","pnl":-0.0545},{"date":"2017-06-30","sig":"t5","pnl":-0.061},{"date":"2017-09-30","sig":"t5","pnl":-0.048},{"date":"2017-12-31","sig":"t5","pnl":-0.0692},{"date":"2018-03-31","sig":"t5","pnl":-0.038},{"date":"2018-06-30","sig":"t5","pnl":-0.0422},{"date":"2018-09-30","sig":"t5","pnl":-0.0432},{"date":"2018-12-31","sig":"t5","pnl":-0.0747},{"date":"2019-03-31","sig":"t5","pnl":-0.1282},{"date":"2019-06-30","sig":"t5","pnl":-0.1266},{"date":"2019-09-30","sig":"t5","pnl":-0.1234},{"date":"2019-12-31","sig":"t5","pnl":-0.1688},{"date":"2020-03-31","sig":"t5","pnl":-0.0529},{"date":"2020-06-30","sig":"t5","pnl":-0.137},{"date":"2020-09-30","sig":"t5","pnl":-0.0948},{"date":"2020-12-31","sig":"t5","pnl":-0.163},{"date":"2021-03-31","sig":"t5","pnl":-0.1867},{"date":"2021-06-30","sig":"t5","pnl":-0.189},{"date":"2021-09-30","sig":"t5","pnl":-0.1987},{"date":"2021-12-31","sig":"t5","pnl":-0.1899}
]
},
"spacing":28,
"resolve":{"scale":{"x":"independent","y":"independent","color":"independent","strokeDash":"independent"},"legend":{"color":"independent","strokeDash":"independent"},"axis":{"x":"independent","y":"independent"}},
"vconcat":[
{"data":{"name":"w5"},"title":{"text":"5-days investment window"},"width":573,"height":227,
"layer":[
{"mark":{"type":"line","strokeWidth":1.1,"opacity":0.85,"point":{"filled":true,"size":12}},
"encoding":{
"x":{"field":"date","type":"temporal","title":null,"scale":{"type":"utc","domain":[1375833600000,1649808000000]},"axis":{"tickCount":200,"values":[1388448000000,1396224000000,1404086400000,1412035200000,1419984000000,1427760000000,1435622400000,1443571200000,1451520000000,1459382400000,1467244800000,1475193600000,1483142400000,1490918400000,1498780800000,1506729600000,1514678400000,1522454400000,1530316800000,1538265600000,1546214400000,1553990400000,1561852800000,1569801600000,1577750400000,1585612800000,1593475200000,1601424000000,1609372800000,1617148800000,1625011200000,1632960000000,1640908800000]}},
"y":{"field":"pnl","type":"quantitative","title":"Cumulative MER (PnL)","scale":{"domain":[-0.092,0.0114],"nice":false,"zero":false},"axis":{"values":[0,-0.02,-0.04,-0.06,-0.08],"format":".2f"}},
"color":{"field":"sig","type":"nominal","title":"signal","legend":{"labelExpr":"(substring(datum.label,0,1)=='v'?'vol imb, qr_':'trade imb, qr_')+substring(datum.label,1)"},"scale":{"domain":["v1","t1","v2","t2","v3","t3","v4","t4","v5","t5"],"range":["#a52a2a","#a52a2a","#ffa500","#ffa500","#008000","#008000","#0000ff","#0000ff","#808080","#808080"]}},
"strokeDash":{"field":"sig","type":"nominal","title":"signal","legend":{"labelExpr":"(substring(datum.label,0,1)=='v'?'vol imb, qr_':'trade imb, qr_')+substring(datum.label,1)"},"scale":{"domain":["v1","t1","v2","t2","v3","t3","v4","t4","v5","t5"],"range":[[1,0],[5,2,1,2],[1,0],[5,2,1,2],[1,0],[5,2,1,2],[1,0],[5,2,1,2],[1,0],[5,2,1,2]]}}}},
{"data":{"name":"zero"},"mark":{"type":"rule","color":"#ff0000","opacity":0.6,"strokeWidth":1.2},"encoding":{"x":{"field":"start","type":"temporal"},"x2":{"field":"end"},"y":{"datum":0}}}
]},
{"spacing":51,
"resolve":{"scale":{"x":"independent","y":"independent","color":"independent","strokeDash":"independent"},"legend":{"color":"independent","strokeDash":"independent"},"axis":{"x":"independent","y":"independent"}},
"vconcat":[
{"data":{"name":"w10"},"title":{"text":"10-days investment window"},"width":573,"height":227,
"layer":[
{"mark":{"type":"line","strokeWidth":1.1,"opacity":0.85,"point":{"filled":true,"size":12}},
"encoding":{
"x":{"field":"date","type":"temporal","title":null,"scale":{"type":"utc","domain":[1375833600000,1649808000000]},"axis":{"tickCount":200,"values":[1388448000000,1396224000000,1404086400000,1412035200000,1419984000000,1427760000000,1435622400000,1443571200000,1451520000000,1459382400000,1467244800000,1475193600000,1483142400000,1490918400000,1498780800000,1506729600000,1514678400000,1522454400000,1530316800000,1538265600000,1546214400000,1553990400000,1561852800000,1569801600000,1577750400000,1585612800000,1593475200000,1601424000000,1609372800000,1617148800000,1625011200000,1632960000000,1640908800000]}},
"y":{"field":"pnl","type":"quantitative","title":"Cumulative MER (PnL)","scale":{"domain":[-0.0449,0.0449],"nice":false,"zero":false},"axis":{"values":[-0.04,-0.03,-0.02,-0.01,0,0.01,0.02,0.03,0.04],"format":".2f"}},
"color":{"field":"sig","type":"nominal","title":"signal","legend":{"labelExpr":"(substring(datum.label,0,1)=='v'?'vol imb, qr_':'trade imb, qr_')+substring(datum.label,1)"},"scale":{"domain":["v1","t1","v2","t2","v3","t3","v4","t4","v5","t5"],"range":["#a52a2a","#a52a2a","#ffa500","#ffa500","#008000","#008000","#0000ff","#0000ff","#808080","#808080"]}},
"strokeDash":{"field":"sig","type":"nominal","title":"signal","legend":{"labelExpr":"(substring(datum.label,0,1)=='v'?'vol imb, qr_':'trade imb, qr_')+substring(datum.label,1)"},"scale":{"domain":["v1","t1","v2","t2","v3","t3","v4","t4","v5","t5"],"range":[[1,0],[5,2,1,2],[1,0],[5,2,1,2],[1,0],[5,2,1,2],[1,0],[5,2,1,2],[1,0],[5,2,1,2]]}}}},
{"data":{"name":"zero"},"mark":{"type":"rule","color":"#ff0000","opacity":0.6,"strokeWidth":1.2},"encoding":{"x":{"field":"start","type":"temporal"},"x2":{"field":"end"},"y":{"datum":0}}}
]},
{"data":{"name":"w21"},"title":{"text":"21-days investment window"},"width":573,"height":227,
"layer":[
{"mark":{"type":"line","strokeWidth":1.1,"opacity":0.85,"point":{"filled":true,"size":12}},
"encoding":{
"x":{"field":"date","type":"temporal","title":null,"scale":{"type":"utc","domain":[1375833600000,1649808000000]},"axis":{"tickCount":200,"values":[1388448000000,1396224000000,1404086400000,1412035200000,1419984000000,1427760000000,1435622400000,1443571200000,1451520000000,1459382400000,1467244800000,1475193600000,1483142400000,1490918400000,1498780800000,1506729600000,1514678400000,1522454400000,1530316800000,1538265600000,1546214400000,1553990400000,1561852800000,1569801600000,1577750400000,1585612800000,1593475200000,1601424000000,1609372800000,1617148800000,1625011200000,1632960000000,1640908800000]}},
"y":{"field":"pnl","type":"quantitative","title":"Cumulative MER (PnL)","scale":{"domain":[-0.2108,0.0249],"nice":false,"zero":false},"axis":{"values":[0,-0.05,-0.1,-0.15,-0.2],"format":".2f"}},
"color":{"field":"sig","type":"nominal","title":"signal","legend":{"labelExpr":"(substring(datum.label,0,1)=='v'?'vol imb, qr_':'trade imb, qr_')+substring(datum.label,1)"},"scale":{"domain":["v1","t1","v2","t2","v3","t3","v4","t4","v5","t5"],"range":["#a52a2a","#a52a2a","#ffa500","#ffa500","#008000","#008000","#0000ff","#0000ff","#808080","#808080"]}},
"strokeDash":{"field":"sig","type":"nominal","title":"signal","legend":{"labelExpr":"(substring(datum.label,0,1)=='v'?'vol imb, qr_':'trade imb, qr_')+substring(datum.label,1)"},"scale":{"domain":["v1","t1","v2","t2","v3","t3","v4","t4","v5","t5"],"range":[[1,0],[5,2,1,2],[1,0],[5,2,1,2],[1,0],[5,2,1,2],[1,0],[5,2,1,2],[1,0],[5,2,1,2]]}}}},
{"data":{"name":"zero"},"mark":{"type":"rule","color":"#ff0000","opacity":0.6,"strokeWidth":1.2},"encoding":{"x":{"field":"start","type":"temporal"},"x2":{"field":"end"},"y":{"datum":0}}}
]},
{"data":{"name":"w42"},"title":{"text":"42-days investment window"},"width":573,"height":227,
"layer":[
{"mark":{"type":"line","strokeWidth":1.1,"opacity":0.85,"point":{"filled":true,"size":12}},
"encoding":{
"x":{"field":"date","type":"temporal","title":null,"scale":{"type":"utc","domain":[1375833600000,1649808000000]},"axis":{"tickCount":200,"values":[1388448000000,1396224000000,1404086400000,1412035200000,1419984000000,1427760000000,1435622400000,1443571200000,1451520000000,1459382400000,1467244800000,1475193600000,1483142400000,1490918400000,1498780800000,1506729600000,1514678400000,1522454400000,1530316800000,1538265600000,1546214400000,1553990400000,1561852800000,1569801600000,1577750400000,1585612800000,1593475200000,1601424000000,1609372800000,1617148800000,1625011200000,1632960000000,1640908800000]}},
"y":{"field":"pnl","type":"quantitative","title":"Cumulative MER (PnL)","scale":{"domain":[-0.2715,0.0215],"nice":false,"zero":false},"axis":{"values":[0,-0.05,-0.1,-0.15,-0.2,-0.25],"format":".2f"}},
"color":{"field":"sig","type":"nominal","title":"signal","legend":{"labelExpr":"(substring(datum.label,0,1)=='v'?'vol imb, qr_':'trade imb, qr_')+substring(datum.label,1)"},"scale":{"domain":["v1","t1","v2","t2","v3","t3","v4","t4","v5","t5"],"range":["#a52a2a","#a52a2a","#ffa500","#ffa500","#008000","#008000","#0000ff","#0000ff","#808080","#808080"]}},
"strokeDash":{"field":"sig","type":"nominal","title":"signal","legend":{"labelExpr":"(substring(datum.label,0,1)=='v'?'vol imb, qr_':'trade imb, qr_')+substring(datum.label,1)"},"scale":{"domain":["v1","t1","v2","t2","v3","t3","v4","t4","v5","t5"],"range":[[1,0],[5,2,1,2],[1,0],[5,2,1,2],[1,0],[5,2,1,2],[1,0],[5,2,1,2],[1,0],[5,2,1,2]]}}}},
{"data":{"name":"zero"},"mark":{"type":"rule","color":"#ff0000","opacity":0.6,"strokeWidth":1.2},"encoding":{"x":{"field":"start","type":"temporal"},"x2":{"field":"end"},"y":{"datum":0}}}
]},
{"data":{"name":"w63"},"title":{"text":"63-days investment window"},"width":573,"height":227,
"layer":[
{"mark":{"type":"line","strokeWidth":1.1,"opacity":0.85,"point":{"filled":true,"size":12}},
"encoding":{
"x":{"field":"date","type":"temporal","title":null,"scale":{"type":"utc","domain":[1375833600000,1649808000000]},"axis":{"tickCount":200,"values":[1388448000000,1396224000000,1404086400000,1412035200000,1419984000000,1427760000000,1435622400000,1443571200000,1451520000000,1459382400000,1467244800000,1475193600000,1483142400000,1490918400000,1498780800000,1506729600000,1514678400000,1522454400000,1530316800000,1538265600000,1546214400000,1553990400000,1561852800000,1569801600000,1577750400000,1585612800000,1593475200000,1601424000000,1609372800000,1617148800000,1625011200000,1632960000000,1640908800000]}},
"y":{"field":"pnl","type":"quantitative","title":"Cumulative MER (PnL)","scale":{"domain":[-0.2084,0.0114],"nice":false,"zero":false},"axis":{"values":[0,-0.025,-0.05,-0.075,-0.1,-0.125,-0.15,-0.175,-0.2],"format":".3f"}},
"color":{"field":"sig","type":"nominal","title":"signal","legend":{"labelExpr":"(substring(datum.label,0,1)=='v'?'vol imb, qr_':'trade imb, qr_')+substring(datum.label,1)"},"scale":{"domain":["v1","t1","v2","t2","v3","t3","v4","t4","v5","t5"],"range":["#a52a2a","#a52a2a","#ffa500","#ffa500","#008000","#008000","#0000ff","#0000ff","#808080","#808080"]}},
"strokeDash":{"field":"sig","type":"nominal","title":"signal","legend":{"labelExpr":"(substring(datum.label,0,1)=='v'?'vol imb, qr_':'trade imb, qr_')+substring(datum.label,1)"},"scale":{"domain":["v1","t1","v2","t2","v3","t3","v4","t4","v5","t5"],"range":[[1,0],[5,2,1,2],[1,0],[5,2,1,2],[1,0],[5,2,1,2],[1,0],[5,2,1,2],[1,0],[5,2,1,2]]}}}},
{"data":{"name":"zero"},"mark":{"type":"rule","color":"#ff0000","opacity":0.6,"strokeWidth":1.2},"encoding":{"x":{"field":"start","type":"temporal"},"x2":{"field":"end"},"y":{"datum":0}}}
]}
]}
],
"config":{
"font":"DejaVu Sans",
"view":{"stroke":"#aaaaaa","strokeWidth":0.8},
"axis":{"grid":true,"gridColor":"#d4d4d4","gridWidth":0.8,"ticks":false,"domain":false,"labelFontSize":6.7,"labelColor":"#444444","titleFontSize":6.7,"titleFontWeight":"normal","titleColor":"#444444"},
"axisX":{"labelAngle":-45,"labelAlign":"center","labelBaseline":"middle","labelPadding":19,"labelOverlap":false,"labelFlush":false,"labelBound":false,"format":"%Y-%m-%d","formatType":"utc"},
"axisY":{"labelPadding":3,"titleX":-30,"titleBaseline":"middle"},
"title":{"fontSize":8,"fontWeight":"normal","color":"#333333","offset":3,"dx":4.5},
"legend":{"orient":"bottom-left","offset":4,"padding":4,"fillColor":"rgba(255,255,255,0.8)","strokeColor":"#cccccc","cornerRadius":3,"symbolType":"stroke","symbolSize":100,"symbolStrokeWidth":1.5,"labelFontSize":6.7,"labelColor":"#333333","titleFontSize":6.7,"titleFontWeight":"normal","titleColor":"#333333","titleAnchor":"middle","titlePadding":3,"rowPadding":0,"labelOffset":5}
}
}
